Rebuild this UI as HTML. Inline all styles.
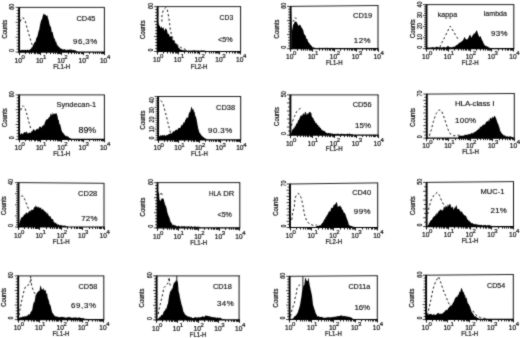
<!DOCTYPE html>
<html><head><meta charset="utf-8"><title>Flow cytometry histograms</title>
<style>
html,body{margin:0;padding:0;background:#fff;}
body{width:520px;height:338px;overflow:hidden;font-family:"Liberation Sans",sans-serif;}
svg{display:block;}
text{font-family:"Liberation Sans",sans-serif;fill:#0a0a0a;stroke:#0a0a0a;stroke-width:0.2px;}
.tk{font-size:6.6px;}
.sup{font-size:6.0px;}
.xl{font-size:6.8px;}
.yt{font-size:6.8px;}
.ct{font-size:6.8px;}
.lb{font-size:7.9px;stroke-width:0.15px;}
</style></head><body>
<svg width="520" height="338" viewBox="0 0 520 338">
<defs><filter id="soft" x="0" y="0" width="520" height="338" filterUnits="userSpaceOnUse" color-interpolation-filters="sRGB"><feConvolveMatrix order="3" kernelMatrix="0.03 0.09 0.03 0.09 0.52 0.09 0.03 0.09 0.03" divisor="1" edgeMode="duplicate" preserveAlpha="true"/></filter></defs>
<g filter="url(#soft)">
<rect width="520" height="338" fill="#fff"/>
<g><path d="M19.5 52.1 L19.5 50.12 L20.05 49.93 L20.6 50.44 L21.15 49.83 L21.7 50.3 L22.25 50.11 L22.8 49.78 L23.35 50.24 L23.9 49.74 L24.45 50.14 L25 49.75 L25.56 49.72 L26.12 50.02 L26.69 50.4 L27.25 49.6 L27.81 49.65 L28.38 50.04 L28.94 50.34 L29.5 49.88 L30.17 49.08 L30.83 49.2 L31.5 47.4 L32.17 47.52 L32.83 45.66 L33.5 44.39 L34.17 42.94 L34.83 41.94 L35.5 41.71 L36.25 38.2 L37 37.23 L37.75 34.93 L38.5 31.57 L39.25 29.41 L40 25.01 L40.65 22.25 L41.3 20 L42 19.36 L42.7 16.25 L43.35 14.17 L44 13.39 L45 15.34 L45.63 14.59 L46.27 16.03 L46.9 15.48 L47.45 15.53 L48 18.25 L48.75 20.59 L49.5 24.28 L50.25 26.28 L51 27.28 L51.75 32.13 L52.5 31.75 L53.25 35.01 L54 38.19 L54.75 38.65 L55.5 41.48 L56.17 41.73 L56.83 44.15 L57.5 45.46 L58.12 45.87 L58.75 47.07 L59.38 46.98 L60 48.26 L60.6 48.38 L61.2 48.62 L61.8 48.73 L62.4 49.45 L63 49.82 L63.56 49.33 L64.11 49.6 L64.67 48.96 L65.22 49.75 L65.78 49.74 L66.33 50.19 L66.89 50.05 L67.44 49.51 L68 49.67 L68.58 50.03 L69.17 49.36 L69.75 49.88 L70.33 49.61 L70.92 49.6 L71.5 49.58 L72.08 50.38 L72.67 49.74 L73.25 49.91 L73.83 50.1 L74.42 50.64 L75 49.87 L75.56 50.6 L76.11 51.03 L76.67 51.67 L77.22 51.65 L77.78 51.97 L78.33 52.1 L78.89 52.1 L79.44 52.1 L80 52.1 L80.56 52.1 L81.11 52.1 L81.67 52.1 L82.22 52.1 L82.78 52.1 L83.33 52.1 L83.89 52.1 L84.44 52.1 L85 52.1 L85.56 52.1 L86.12 52.1 L86.68 52.1 L87.24 52.1 L87.79 52.1 L88.35 52.1 L88.91 52.1 L89.47 52.1 L90.03 52.1 L90.59 52.1 L91.15 52.1 L91.71 52.1 L92.26 52.1 L92.82 52.1 L93.38 52.1 L93.94 52.1 L94.5 52.1 L95.06 52.1 L95.62 52.1 L96.18 52.1 L96.74 52.1 L97.29 52.1 L97.85 52.1 L98.41 52.1 L98.97 52.1 L99.53 52.1 L100.09 52.1 L100.65 52.1 L101.21 52.1 L101.76 52.1 L102.32 52.1 L102.88 52.1 L103.44 52.1 L104 52.1 L104 52.1 Z" fill="#000"/><path d="M19.5 52.1 v-0.96 M20.99 52.1 v-0.52 M22.12 52.1 v-0.59 M23.63 52.1 v-1.07 M24.55 52.1 v-0.44 M25.54 52.1 v-0.49 M26.73 52.1 v-0.77 M27.74 52.1 v-0.3 M28.87 52.1 v-0.6 M30.12 52.1 v-1.06 M31.48 52.1 v-0.71 M32.77 52.1 v-0.84 M33.61 52.1 v-1.02 M35.04 52.1 v-1 M36.48 52.1 v-0.61 M37.59 52.1 v-0.38 M38.9 52.1 v-0.35 M39.76 52.1 v-0.47 M40.69 52.1 v-0.57 M41.53 52.1 v-0.3 M42.45 52.1 v-0.38 M43.54 52.1 v-0.32 M45.04 52.1 v-0.79 M45.96 52.1 v-0.5 M47.04 52.1 v-0.59 M47.93 52.1 v-0.98 M49.53 52.1 v-0.67 M50.72 52.1 v-0.37 M51.6 52.1 v-0.57 M52.61 52.1 v-0.96 M53.54 52.1 v-0.32 M55.1 52.1 v-0.72 M56.02 52.1 v-0.73 M56.84 52.1 v-0.72 M58.42 52.1 v-0.99 M59.78 52.1 v-0.51 M60.87 52.1 v-0.43 M62.29 52.1 v-0.73 M63.71 52.1 v-0.56 M64.69 52.1 v-0.95 M66.28 52.1 v-0.98 M67.72 52.1 v-0.95 M69.12 52.1 v-0.48 M70.33 52.1 v-0.58 M71.15 52.1 v-0.32 M72.18 52.1 v-0.51 M73.53 52.1 v-1.07 M74.69 52.1 v-1.05 M76.28 52.1 v-1.06 M77.37 52.1 v-0.48" stroke="#000" stroke-width="0.7" fill="none"/><polyline points="20.3,21.5 21.3,18.8 22.6,17.8 24,18.5 25,20.6 26.3,25 27.5,29.5 28.8,34 30,38 31.2,42 32.2,45" fill="none" stroke="#111" stroke-width="1.0" stroke-dasharray="2.2 2.3"/><line x1="19.1" y1="7.4" x2="104.8" y2="7.4" stroke="#222" stroke-width="1.0"/><line x1="104.4" y1="7.4" x2="104.4" y2="52.1" stroke="#111" stroke-width="1.0"/><line x1="19.1" y1="7.1" x2="19.1" y2="52.9" stroke="#000" stroke-width="1.9"/><line x1="18.3" y1="52.1" x2="104.8" y2="52.1" stroke="#000" stroke-width="1.2"/><path d="M19.5 52.1 v3.0 M25.5 52.1 v2.0 M29.5 52.1 v2.0 M31.5 52.1 v2.0 M34.5 52.1 v2.0 M35.5 52.1 v2.0 M37.5 52.1 v2.0 M38.5 52.1 v2.0 M39.5 52.1 v2.0 M40.5 52.1 v3.0 M46.5 52.1 v2.0 M50.5 52.1 v2.0 M53.5 52.1 v2.0 M55.5 52.1 v2.0 M57.5 52.1 v2.0 M58.5 52.1 v2.0 M59.5 52.1 v2.0 M60.5 52.1 v2.0 M61.5 52.1 v3.0 M68.5 52.1 v2.0 M71.5 52.1 v2.0 M74.5 52.1 v2.0 M76.5 52.1 v2.0 M78.5 52.1 v2.0 M79.5 52.1 v2.0 M81.5 52.1 v2.0 M82.5 52.1 v2.0 M83.5 52.1 v3.0 M89.5 52.1 v2.0 M93.5 52.1 v2.0 M95.5 52.1 v2.0 M97.5 52.1 v2.0 M99.5 52.1 v2.0 M101.5 52.1 v2.0 M102.5 52.1 v2.0 M103.5 52.1 v2.0 M104.5 52.1 v3.0" stroke="#000" stroke-width="0.9" fill="none"/><path d="M19.1 52.1 h-3.5 M19.1 49.12 h-2.5 M19.1 46.14 h-2.5 M19.1 43.16 h-2.5 M19.1 40.18 h-2.5 M19.1 37.2 h-3.5 M19.1 34.22 h-2.5 M19.1 31.24 h-2.5 M19.1 28.26 h-2.5 M19.1 25.28 h-2.5 M19.1 22.3 h-3.5 M19.1 19.32 h-2.5 M19.1 16.34 h-2.5 M19.1 13.36 h-2.5 M19.1 10.38 h-2.5 M19.1 7.4 h-3.5" stroke="#000" stroke-width="0.75" fill="none"/><text x="14.6" y="62.6" class="tk">10</text><text x="21.6" y="58.7" class="sup">0</text><text x="35.93" y="62.6" class="tk">10</text><text x="42.93" y="58.7" class="sup">1</text><text x="57.25" y="62.6" class="tk">10</text><text x="64.25" y="58.7" class="sup">2</text><text x="78.58" y="62.6" class="tk">10</text><text x="85.58" y="58.7" class="sup">3</text><text x="99.9" y="62.6" class="tk">10</text><text x="106.9" y="58.7" class="sup">4</text><text transform="translate(61.75 68.7) scale(0.889 1)" class="xl" text-anchor="middle">FL1-H</text><text transform="translate(13.8 6.8) rotate(-90) scale(0.807 1)" class="yt" text-anchor="middle">60</text><text transform="translate(13.8 50.6) rotate(-90) scale(0.793 1)" class="yt" text-anchor="middle">0</text><text transform="translate(6.6 29.2) rotate(-90) scale(0.873 1)" class="ct" text-anchor="middle">Counts</text><text x="76.5" y="21.3" class="lb" textLength="18.9" lengthAdjust="spacingAndGlyphs">CD45</text><text x="73.1" y="44.1" class="lb" textLength="24.1">96,3%</text></g>
<g><path d="M157.5 51.5 L157.5 5.57 L158.2 11.99 L157.9 21.12 L158.5 23.86 L159.1 25.46 L159.7 25.43 L160.3 27.22 L160.9 28.09 L161.5 26.02 L162.1 28.35 L162.7 28.34 L163.3 27.06 L164.4 31.05 L165 29.53 L165.6 27.91 L166.2 29.38 L166.8 29.33 L167.4 32.42 L168 34.14 L168.6 33.48 L169.2 34.71 L169.8 36.85 L170.4 36.76 L171 35.8 L171.57 36.52 L172.13 37.42 L172.7 40.08 L173.3 40.61 L173.9 39.92 L174.5 42.19 L175.1 43.23 L175.7 43.33 L176.3 43.53 L176.9 44.88 L177.5 45.23 L178.1 46.11 L178.68 48.03 L179.25 48.19 L179.82 48.63 L180.4 49.68 L181 49.37 L181.6 50.07 L182.2 50.25 L182.8 49.88 L183.4 50.17 L183.99 50.25 L184.57 50.24 L185.16 50.61 L185.74 50.35 L186.33 50.54 L186.91 50.32 L187.5 51.07 L188.07 50.57 L188.64 50.67 L189.2 50.79 L189.77 51.08 L190.34 50.65 L190.91 51.1 L191.48 50.73 L192.05 50.76 L192.61 50.76 L193.18 50.31 L193.75 50.7 L194.32 50.47 L194.89 50.31 L195.45 51.03 L196.02 50.47 L196.59 50.75 L197.16 50.98 L197.73 50.83 L198.3 50.63 L198.86 50.81 L199.43 50.84 L200 51.05 L200.56 50.45 L201.11 50.86 L201.67 50.58 L202.22 50.61 L202.78 51.05 L203.33 50.82 L203.89 50.86 L204.44 50.91 L205 51.04 L205.56 51.17 L206.11 51.3 L206.67 51.42 L207.22 51.5 L207.78 51.5 L208.33 51.5 L208.89 51.5 L209.44 51.5 L210 51.5 L210.56 51.5 L211.11 51.5 L211.67 51.5 L212.22 51.5 L212.78 51.5 L213.33 51.5 L213.89 51.5 L214.44 51.5 L215 51.5 L215.56 51.5 L216.11 51.5 L216.67 51.5 L217.22 51.5 L217.78 51.5 L218.33 51.5 L218.89 51.5 L219.44 51.5 L220 51.5 L220.56 51.5 L221.11 51.5 L221.67 51.5 L222.22 51.5 L222.78 51.5 L223.33 51.5 L223.89 51.5 L224.44 51.5 L225 51.5 L225.56 51.5 L226.11 51.5 L226.67 51.5 L227.22 51.5 L227.78 51.5 L228.33 51.5 L228.89 51.5 L229.44 51.5 L230 51.5 L230.56 51.5 L231.11 51.5 L231.67 51.5 L232.22 51.5 L232.78 51.5 L233.33 51.5 L233.89 51.5 L234.44 51.5 L235 51.5 L235.56 51.5 L236.11 51.5 L236.67 51.5 L237.22 51.5 L237.78 51.5 L238.33 51.5 L238.89 51.5 L239.44 51.5 L240 51.5 L240 51.5 Z" fill="#000"/><path d="M157.5 51.5 v-0.91 M159.03 51.5 v-0.65 M160.32 51.5 v-0.7 M161.53 51.5 v-0.85 M162.69 51.5 v-0.73 M163.87 51.5 v-1.05 M165.23 51.5 v-1 M166.79 51.5 v-0.51 M168.03 51.5 v-1.05 M169.51 51.5 v-0.41 M170.4 51.5 v-0.65 M171.26 51.5 v-0.49 M172.12 51.5 v-0.84 M173.55 51.5 v-1.02 M174.47 51.5 v-0.87 M175.8 51.5 v-0.41 M177.31 51.5 v-1.07 M178.28 51.5 v-1.06 M179.4 51.5 v-0.69 M180.99 51.5 v-0.97 M181.92 51.5 v-0.65 M183.13 51.5 v-0.57 M184.09 51.5 v-0.55 M185.47 51.5 v-0.32 M186.71 51.5 v-0.65 M187.53 51.5 v-0.57 M188.82 51.5 v-0.71 M189.68 51.5 v-1.09 M191.11 51.5 v-1.08 M191.99 51.5 v-0.51 M192.82 51.5 v-0.92 M193.84 51.5 v-0.4 M194.98 51.5 v-1.03 M196.43 51.5 v-0.51 M197.35 51.5 v-1.04 M198.61 51.5 v-0.86 M199.48 51.5 v-0.35 M200.83 51.5 v-0.64 M201.69 51.5 v-1.05 M203 51.5 v-0.94 M203.86 51.5 v-0.98 M204.72 51.5 v-0.99 M205.88 51.5 v-0.57" stroke="#000" stroke-width="0.7" fill="none"/><polyline points="161.9,21.6 161.9,15.8 163.3,10 165.8,7.5 167.4,10 168.6,16.6 169.6,23.2 170.2,29 171.2,33.2 172.4,37.3 174.9,42.3 178.2,45.6 182.3,48.4 185.7,49.4" fill="none" stroke="#111" stroke-width="1.0" stroke-dasharray="2.2 2.3"/><line x1="157.6" y1="6.6" x2="241" y2="6.6" stroke="#222" stroke-width="1.0"/><line x1="240.6" y1="6.6" x2="240.6" y2="51.5" stroke="#111" stroke-width="1.0"/><line x1="157.6" y1="6.3" x2="157.6" y2="52.3" stroke="#000" stroke-width="1.9"/><line x1="156.8" y1="51.5" x2="241" y2="51.5" stroke="#000" stroke-width="1.2"/><path d="M157.5 51.5 v3.0 M163.5 51.5 v2.0 M167.5 51.5 v2.0 M170.5 51.5 v2.0 M172.5 51.5 v2.0 M173.5 51.5 v2.0 M175.5 51.5 v2.0 M176.5 51.5 v2.0 M177.5 51.5 v2.0 M178.5 51.5 v3.0 M184.5 51.5 v2.0 M188.5 51.5 v2.0 M190.5 51.5 v2.0 M192.5 51.5 v2.0 M194.5 51.5 v2.0 M195.5 51.5 v2.0 M197.5 51.5 v2.0 M198.5 51.5 v2.0 M199.5 51.5 v3.0 M205.5 51.5 v2.0 M209.5 51.5 v2.0 M211.5 51.5 v2.0 M213.5 51.5 v2.0 M215.5 51.5 v2.0 M216.5 51.5 v2.0 M217.5 51.5 v2.0 M218.5 51.5 v2.0 M219.5 51.5 v3.0 M226.5 51.5 v2.0 M229.5 51.5 v2.0 M232.5 51.5 v2.0 M234.5 51.5 v2.0 M235.5 51.5 v2.0 M237.5 51.5 v2.0 M238.5 51.5 v2.0 M239.5 51.5 v2.0 M240.5 51.5 v3.0" stroke="#000" stroke-width="0.9" fill="none"/><path d="M157.6 51.5 h-3.5 M157.6 48.51 h-2.5 M157.6 45.51 h-2.5 M157.6 42.52 h-2.5 M157.6 39.53 h-2.5 M157.6 36.53 h-3.5 M157.6 33.54 h-2.5 M157.6 30.55 h-2.5 M157.6 27.55 h-2.5 M157.6 24.56 h-2.5 M157.6 21.57 h-3.5 M157.6 18.57 h-2.5 M157.6 15.58 h-2.5 M157.6 12.59 h-2.5 M157.6 9.59 h-2.5 M157.6 6.6 h-3.5" stroke="#000" stroke-width="0.75" fill="none"/><text x="153.1" y="62.1" class="tk">10</text><text x="160.1" y="58.2" class="sup">0</text><text x="173.85" y="62.1" class="tk">10</text><text x="180.85" y="58.2" class="sup">1</text><text x="194.6" y="62.1" class="tk">10</text><text x="201.6" y="58.2" class="sup">2</text><text x="215.35" y="62.1" class="tk">10</text><text x="222.35" y="58.2" class="sup">3</text><text x="236.1" y="62.1" class="tk">10</text><text x="243.1" y="58.2" class="sup">4</text><text transform="translate(199.1 68.7) scale(0.889 1)" class="xl" text-anchor="middle">FL2-H</text><text transform="translate(153.1 6) rotate(-90) scale(0.807 1)" class="yt" text-anchor="middle">60</text><text transform="translate(153.1 50) rotate(-90) scale(0.793 1)" class="yt" text-anchor="middle">0</text><text transform="translate(145.3 29.7) rotate(-90) scale(0.873 1)" class="ct" text-anchor="middle">Counts</text><text x="219.6" y="19.7" class="lb" textLength="13.6" lengthAdjust="spacingAndGlyphs">CD3</text><text x="218.1" y="41.9" class="lb" textLength="14.6" lengthAdjust="spacingAndGlyphs">&lt;5%</text></g>
<g><path d="M291.3 48.7 L291.3 9.75 L292.2 30.8 L293.2 24.04 L293.77 24.42 L294.33 22.48 L294.9 21.07 L295.7 21.65 L296.5 21.67 L297.07 23.02 L297.63 24.23 L298.2 25.04 L298.77 26.32 L299.33 24.45 L299.9 24.9 L300.7 25.45 L301.5 27.68 L302.07 27.7 L302.63 29.61 L303.2 30.03 L304 33.81 L304.8 34.93 L305.37 35.13 L305.93 36.94 L306.5 39.05 L307.3 39.03 L308.1 42.05 L308.73 42.21 L309.35 43.14 L309.98 44.45 L310.6 44.66 L311.23 45.43 L311.85 46.26 L312.48 47.19 L313.1 47.15 L313.76 47.8 L314.42 47.85 L315.08 47.96 L315.74 47.94 L316.4 48.2 L316.95 48.2 L317.5 48.2 L318.05 48.21 L318.6 48.21 L319.15 48.21 L319.7 48.21 L320.25 48.21 L320.8 48.21 L321.35 48.22 L321.9 48.22 L322.45 48.22 L323 48.22 L323.55 48.22 L324.1 48.23 L324.65 48.23 L325.2 48.23 L325.75 48.23 L326.3 48.23 L326.85 48.23 L327.4 48.24 L327.95 48.24 L328.5 48.24 L329.05 48.24 L329.6 48.24 L330.15 48.24 L330.7 48.25 L331.25 48.25 L331.8 48.25 L332.35 48.3 L332.9 48.39 L333.45 48.47 L334 48.55 L334.55 48.63 L335.1 48.7 L335.65 48.7 L336.2 48.7 L336.75 48.7 L337.3 48.7 L337.85 48.7 L338.4 48.7 L338.95 48.7 L339.5 48.7 L340.05 48.7 L340.6 48.7 L341.15 48.7 L341.7 48.7 L342.25 48.7 L342.8 48.7 L343.35 48.7 L343.9 48.7 L344.45 48.7 L345 48.7 L345.55 48.7 L346.1 48.7 L346.65 48.7 L347.2 48.7 L347.75 48.7 L348.3 48.7 L348.85 48.7 L349.4 48.7 L349.95 48.7 L350.5 48.7 L351.05 48.7 L351.6 48.7 L352.15 48.7 L352.7 48.7 L353.25 48.7 L353.8 48.7 L354.35 48.7 L354.9 48.7 L355.45 48.7 L356 48.7 L356.55 48.7 L357.1 48.7 L357.65 48.7 L358.2 48.7 L358.75 48.7 L359.3 48.7 L359.85 48.7 L360.4 48.7 L360.95 48.7 L361.5 48.7 L362.05 48.7 L362.6 48.7 L363.15 48.7 L363.7 48.7 L364.25 48.7 L364.8 48.7 L365.35 48.7 L365.9 48.7 L366.45 48.7 L367 48.7 L367.55 48.7 L368.1 48.7 L368.65 48.7 L369.2 48.7 L369.75 48.7 L370.3 48.7 L370.85 48.7 L371.4 48.7 L371.95 48.7 L372.5 48.7 L373.05 48.7 L373.6 48.7 L374.15 48.7 L374.7 48.7 L375.25 48.7 L375.8 48.7 L376.35 48.7 L376.9 48.7 L377.45 48.7 L378 48.7 L378 48.7 Z" fill="#000"/><path d="M291.3 48.7 v-0.58 M292.14 48.7 v-0.4 M293 48.7 v-0.89 M294 48.7 v-0.43 M294.87 48.7 v-0.97 M296.37 48.7 v-0.84 M297.39 48.7 v-0.49 M298.43 48.7 v-0.67 M299.35 48.7 v-0.66 M300.37 48.7 v-1.07 M301.94 48.7 v-0.74 M302.94 48.7 v-1.07 M303.99 48.7 v-0.59 M304.79 48.7 v-0.61 M305.97 48.7 v-0.7 M306.93 48.7 v-0.7 M307.73 48.7 v-0.51 M308.6 48.7 v-0.62 M309.44 48.7 v-0.32 M310.48 48.7 v-0.49 M311.75 48.7 v-0.72 M313.15 48.7 v-0.83 M314.52 48.7 v-1 M315.63 48.7 v-0.56 M317.22 48.7 v-0.42 M318.6 48.7 v-0.81 M319.44 48.7 v-0.97 M320.95 48.7 v-0.8 M322.34 48.7 v-0.95 M323.25 48.7 v-0.72 M324.45 48.7 v-0.97 M325.9 48.7 v-0.96 M327.16 48.7 v-1.01 M328.51 48.7 v-0.85 M329.49 48.7 v-0.32 M330.4 48.7 v-0.59 M331.28 48.7 v-0.97 M332.53 48.7 v-0.8 M333.83 48.7 v-0.84" stroke="#000" stroke-width="0.7" fill="none"/><line x1="292.9" y1="21.6" x2="294" y2="19.9" stroke="#111" stroke-width="1.0"/><line x1="294.9" y1="17.4" x2="296.5" y2="19" stroke="#111" stroke-width="1.0"/><line x1="290.6" y1="6.4" x2="378.4" y2="5.5" stroke="#222" stroke-width="1.0"/><line x1="378" y1="5.5" x2="378" y2="48.7" stroke="#111" stroke-width="1.0"/><line x1="290.6" y1="6.1" x2="290.6" y2="49.5" stroke="#000" stroke-width="1.9"/><line x1="289.8" y1="48.7" x2="378.4" y2="48.7" stroke="#000" stroke-width="1.2"/><path d="M290.5 48.7 v3.0 M297.5 48.7 v2.0 M301.5 48.7 v2.0 M303.5 48.7 v2.0 M305.5 48.7 v2.0 M307.5 48.7 v2.0 M309.5 48.7 v2.0 M310.5 48.7 v2.0 M311.5 48.7 v2.0 M312.5 48.7 v3.0 M319.5 48.7 v2.0 M322.5 48.7 v2.0 M325.5 48.7 v2.0 M327.5 48.7 v2.0 M329.5 48.7 v2.0 M330.5 48.7 v2.0 M332.5 48.7 v2.0 M333.5 48.7 v2.0 M334.5 48.7 v3.0 M340.5 48.7 v2.0 M344.5 48.7 v2.0 M347.5 48.7 v2.0 M349.5 48.7 v2.0 M351.5 48.7 v2.0 M352.5 48.7 v2.0 M354.5 48.7 v2.0 M355.5 48.7 v2.0 M356.5 48.7 v3.0 M362.5 48.7 v2.0 M366.5 48.7 v2.0 M369.5 48.7 v2.0 M371.5 48.7 v2.0 M373.5 48.7 v2.0 M374.5 48.7 v2.0 M375.5 48.7 v2.0 M377.5 48.7 v2.0 M378.5 48.7 v3.0" stroke="#000" stroke-width="0.9" fill="none"/><path d="M290.6 48.7 h-3.5 M290.6 45.88 h-2.5 M290.6 43.06 h-2.5 M290.6 40.24 h-2.5 M290.6 37.42 h-2.5 M290.6 34.6 h-3.5 M290.6 31.78 h-2.5 M290.6 28.96 h-2.5 M290.6 26.14 h-2.5 M290.6 23.32 h-2.5 M290.6 20.5 h-3.5 M290.6 17.68 h-2.5 M290.6 14.86 h-2.5 M290.6 12.04 h-2.5 M290.6 9.22 h-2.5 M290.6 6.4 h-3.5" stroke="#000" stroke-width="0.75" fill="none"/><text x="286.1" y="58.7" class="tk">10</text><text x="293.1" y="54.8" class="sup">0</text><text x="307.95" y="58.7" class="tk">10</text><text x="314.95" y="54.8" class="sup">1</text><text x="329.8" y="58.7" class="tk">10</text><text x="336.8" y="54.8" class="sup">2</text><text x="351.65" y="58.7" class="tk">10</text><text x="358.65" y="54.8" class="sup">3</text><text x="373.5" y="58.7" class="tk">10</text><text x="380.5" y="54.8" class="sup">4</text><text transform="translate(334.3 65.1) scale(0.889 1)" class="xl" text-anchor="middle">FL1-H</text><text transform="translate(286.1 5.8) rotate(-90) scale(0.807 1)" class="yt" text-anchor="middle">60</text><text transform="translate(286.1 47.2) rotate(-90) scale(0.793 1)" class="yt" text-anchor="middle">0</text><text transform="translate(279 29) rotate(-90) scale(0.873 1)" class="ct" text-anchor="middle">Counts</text><text x="353" y="17.8" class="lb" textLength="19.2" lengthAdjust="spacingAndGlyphs">CD19</text><text x="353.8" y="42.5" class="lb" textLength="16.8">12%</text></g>
<g><path d="M427 48.6 L427 47.2 L427.58 47.82 L428.17 47.77 L428.75 47.55 L429.33 47.56 L429.92 47.64 L430.5 47.15 L431.08 47.67 L431.67 47.27 L432.25 47.11 L432.83 47.25 L433.42 47.6 L434 47.16 L434.6 47.47 L435.2 47.54 L435.8 47.04 L436.4 46.83 L437 46.78 L437.6 47.09 L438.2 47.29 L438.8 47.31 L439.4 47.47 L440 47.16 L440.6 47.2 L441.2 47.26 L441.8 47.63 L442.4 47.26 L443 47.45 L443.6 46.99 L444.2 47.01 L444.8 47.16 L445.4 47.46 L446 47.45 L446.67 47.01 L447.33 46.27 L448 46.01 L448.75 46.62 L449.5 47.27 L450.11 46.94 L450.73 47.5 L451.34 46.89 L451.96 47.45 L452.57 47.36 L453.19 46.57 L453.8 46.87 L454.42 46.8 L455.04 46.55 L455.66 45.78 L456.28 45.27 L456.9 44.87 L457.47 44.96 L458.05 43.87 L458.62 43.67 L459.2 42.81 L459.77 42.72 L460.35 42.66 L460.93 41.61 L461.5 41.76 L462.3 40.76 L463.1 40.31 L463.85 38.61 L464.6 36.69 L465.4 38.82 L465.95 39.24 L466.5 39.62 L467.1 39.2 L467.7 39.19 L468.3 38.01 L468.9 36.74 L469.45 35.46 L470 34.48 L470.8 36.05 L471.5 37.97 L472.05 36.15 L472.6 35.6 L473.2 34.87 L473.8 33.5 L474.45 33.64 L475.1 32.97 L476.2 31.12 L476.9 30.13 L477.7 33 L478.5 35.31 L479.1 36.55 L479.7 36.97 L480.25 36.44 L480.8 36.14 L481.5 39.02 L482.3 40.39 L483.1 41.98 L483.85 43.97 L484.6 44.93 L485.18 45.82 L485.75 45.65 L486.32 46.04 L486.9 46.61 L487.46 46.47 L488.01 46.73 L488.57 47.31 L489.13 47.43 L489.69 47.75 L490.24 47.93 L490.8 48.12 L491.36 48.34 L491.91 48.56 L492.47 48.6 L493.02 48.6 L493.57 48.6 L494.13 48.6 L494.69 48.6 L495.24 48.6 L495.8 48.6 L496.35 48.6 L496.91 48.6 L497.46 48.6 L498.01 48.6 L498.57 48.6 L499.12 48.6 L499.68 48.6 L500.24 48.6 L500.79 48.6 L501.35 48.6 L501.9 48.6 L502.45 48.6 L503.01 48.6 L503.56 48.6 L504.12 48.6 L504.68 48.6 L505.23 48.6 L505.79 48.6 L506.34 48.6 L506.89 48.6 L507.45 48.6 L508 48.6 L508.56 48.6 L509.12 48.6 L509.67 48.6 L510.23 48.6 L510.78 48.6 L511.33 48.6 L511.89 48.6 L512.45 48.6 L513 48.6 L513 48.6 Z" fill="#000"/><path d="M427 48.6 v-1.03 M428.55 48.6 v-0.74 M429.93 48.6 v-0.34 M431.31 48.6 v-0.66 M432.72 48.6 v-0.82 M433.75 48.6 v-0.34 M435.29 48.6 v-0.4 M436.46 48.6 v-0.57 M437.5 48.6 v-0.89 M439.08 48.6 v-0.51 M440.41 48.6 v-0.54 M441.65 48.6 v-0.62 M442.59 48.6 v-0.43 M443.55 48.6 v-1.02 M444.75 48.6 v-0.48 M446.28 48.6 v-1.1 M447.44 48.6 v-0.41 M448.39 48.6 v-0.37 M449.46 48.6 v-0.37 M450.46 48.6 v-0.51 M451.71 48.6 v-1.01 M453.11 48.6 v-0.63 M454.24 48.6 v-0.72 M455.34 48.6 v-0.57 M456.19 48.6 v-0.52 M457.77 48.6 v-0.4 M458.97 48.6 v-0.8 M460.46 48.6 v-0.47 M461.48 48.6 v-0.5 M462.6 48.6 v-0.66 M464.16 48.6 v-0.98 M465.66 48.6 v-0.32 M466.48 48.6 v-0.87 M468 48.6 v-0.68 M469.27 48.6 v-0.3 M470.38 48.6 v-1.04 M471.84 48.6 v-0.98 M473.42 48.6 v-0.5 M474.31 48.6 v-0.42 M475.53 48.6 v-0.85 M477.08 48.6 v-0.88 M478.4 48.6 v-0.91 M479.56 48.6 v-0.74 M480.4 48.6 v-0.93 M481.38 48.6 v-1.04 M482.7 48.6 v-0.54 M483.6 48.6 v-0.5 M484.91 48.6 v-0.86 M485.8 48.6 v-0.36 M487.02 48.6 v-0.77 M488.13 48.6 v-0.48 M489.41 48.6 v-0.31 M490.45 48.6 v-0.67" stroke="#000" stroke-width="0.7" fill="none"/><polyline points="439.8,47.3 442,42.5 444.5,37.5 447,32.5 449,28.5 450.3,26.2 452,29 454,32.5 456.5,36.5 458.9,40.6" fill="none" stroke="#111" stroke-width="1.0" stroke-dasharray="2.2 2.3"/><line x1="426.5" y1="4.6" x2="514.2" y2="4.6" stroke="#222" stroke-width="1.0"/><line x1="513.8" y1="4.6" x2="513.8" y2="48.6" stroke="#111" stroke-width="1.0"/><line x1="426.5" y1="4.3" x2="426.5" y2="49.4" stroke="#000" stroke-width="1.9"/><line x1="425.7" y1="48.6" x2="514.2" y2="48.6" stroke="#000" stroke-width="1.2"/><path d="M426.5 48.6 v3.0 M433.5 48.6 v2.0 M436.5 48.6 v2.0 M439.5 48.6 v2.0 M441.5 48.6 v2.0 M443.5 48.6 v2.0 M444.5 48.6 v2.0 M446.5 48.6 v2.0 M447.5 48.6 v2.0 M448.5 48.6 v3.0 M454.5 48.6 v2.0 M458.5 48.6 v2.0 M461.5 48.6 v2.0 M463.5 48.6 v2.0 M465.5 48.6 v2.0 M466.5 48.6 v2.0 M468.5 48.6 v2.0 M469.5 48.6 v2.0 M470.5 48.6 v3.0 M476.5 48.6 v2.0 M480.5 48.6 v2.0 M483.5 48.6 v2.0 M485.5 48.6 v2.0 M487.5 48.6 v2.0 M488.5 48.6 v2.0 M489.5 48.6 v2.0 M490.5 48.6 v2.0 M491.5 48.6 v3.0 M498.5 48.6 v2.0 M502.5 48.6 v2.0 M505.5 48.6 v2.0 M507.5 48.6 v2.0 M508.5 48.6 v2.0 M510.5 48.6 v2.0 M511.5 48.6 v2.0 M512.5 48.6 v2.0 M513.5 48.6 v3.0" stroke="#000" stroke-width="0.9" fill="none"/><path d="M426.5 48.6 h-3.5 M426.5 46.4 h-2.5 M426.5 44.2 h-2.5 M426.5 42 h-2.5 M426.5 39.8 h-2.5 M426.5 37.6 h-3.5 M426.5 35.4 h-2.5 M426.5 33.2 h-2.5 M426.5 31 h-2.5 M426.5 28.8 h-2.5 M426.5 26.6 h-3.5 M426.5 24.4 h-2.5 M426.5 22.2 h-2.5 M426.5 20 h-2.5 M426.5 17.8 h-2.5 M426.5 15.6 h-3.5 M426.5 13.4 h-2.5 M426.5 11.2 h-2.5 M426.5 9 h-2.5 M426.5 6.8 h-2.5 M426.5 4.6 h-3.5" stroke="#000" stroke-width="0.75" fill="none"/><text x="422" y="58.9" class="tk">10</text><text x="429" y="55" class="sup">0</text><text x="443.82" y="58.9" class="tk">10</text><text x="450.82" y="55" class="sup">1</text><text x="465.65" y="58.9" class="tk">10</text><text x="472.65" y="55" class="sup">2</text><text x="487.47" y="58.9" class="tk">10</text><text x="494.47" y="55" class="sup">3</text><text x="509.3" y="58.9" class="tk">10</text><text x="516.3" y="55" class="sup">4</text><text transform="translate(470.15 64.9) scale(0.889 1)" class="xl" text-anchor="middle">FL2-H</text><text transform="translate(422.1 4.4) rotate(-90) scale(0.807 1)" class="yt" text-anchor="middle">40</text><text transform="translate(422.1 15) rotate(-90) scale(0.807 1)" class="yt" text-anchor="middle">30</text><text transform="translate(422.1 26) rotate(-90) scale(0.807 1)" class="yt" text-anchor="middle">20</text><text transform="translate(422.1 36.9) rotate(-90) scale(0.807 1)" class="yt" text-anchor="middle">10</text><text transform="translate(422.1 47.3) rotate(-90) scale(0.793 1)" class="yt" text-anchor="middle">0</text><text transform="translate(414.6 28.6) rotate(-90) scale(0.873 1)" class="ct" text-anchor="middle">Counts</text><text x="437.8" y="16.6" class="lb" textLength="19.4" lengthAdjust="spacingAndGlyphs">kappa</text><text x="483.8" y="16.2" class="lb" textLength="23.1" lengthAdjust="spacingAndGlyphs">lambda</text><text x="491" y="36.2" class="lb" textLength="16.5">93%</text></g>
<g><path d="M19.6 139.3 L19.6 134.71 L20 134.76 L20.62 134 L21.24 133.48 L21.86 133.33 L22.48 134.27 L23.1 133.72 L23.72 132.77 L24.34 131.97 L24.96 132.44 L25.58 132.42 L26.2 131.66 L26.77 131.78 L27.35 132.88 L27.93 133.69 L28.5 132.97 L29.07 132.46 L29.65 132.74 L30.23 132.67 L30.8 132.91 L31.38 131.29 L31.95 131.61 L32.52 130.75 L33.1 129.51 L33.67 129.1 L34.25 130.85 L34.83 129.72 L35.4 130.93 L35.98 129.38 L36.55 128.97 L37.12 129.73 L37.7 128.36 L38.28 129.4 L38.85 127.99 L39.42 126.87 L40 126.54 L40.58 126.83 L41.15 127.25 L41.72 127.77 L42.3 125.63 L42.88 125.65 L43.45 124.6 L44.02 126.05 L44.6 123.21 L45.4 121.32 L46.2 119.71 L46.95 119.19 L47.7 119.35 L48.28 118.53 L48.85 117.24 L49.42 117.37 L50 116.37 L50.58 114.04 L51.15 113.28 L51.72 115.56 L52.3 114.64 L52.88 112.31 L53.45 114.56 L54.02 113.69 L54.6 113.77 L55.17 113.8 L55.75 113.43 L56.33 113.03 L56.9 114.15 L57.55 116.34 L58.2 120.35 L58.8 119.63 L59.4 124.23 L60 124.12 L60.75 126.86 L61.5 130.17 L62.3 132.04 L63.1 133.29 L63.68 133.3 L64.25 134.51 L64.83 134.95 L65.4 136.23 L66.02 135.56 L66.64 136.02 L67.26 136.89 L67.88 136.12 L68.5 136.8 L69.13 137.83 L69.77 138.32 L70.4 138.16 L71.03 139.01 L71.67 139.3 L72.3 139.3 L72.86 139.3 L73.41 139.3 L73.97 139.3 L74.52 139.3 L75.08 139.3 L75.64 139.3 L76.19 139.3 L76.75 139.3 L77.31 139.3 L77.86 139.3 L78.42 139.3 L78.97 139.3 L79.53 139.3 L80.09 139.3 L80.64 139.3 L81.2 139.3 L81.75 139.3 L82.31 139.3 L82.87 139.3 L83.42 139.3 L83.98 139.3 L84.54 139.3 L85.09 139.3 L85.65 139.3 L86.2 139.3 L86.76 139.3 L87.32 139.3 L87.87 139.3 L88.43 139.3 L88.98 139.3 L89.54 139.3 L90.1 139.3 L90.65 139.3 L91.21 139.3 L91.76 139.3 L92.32 139.3 L92.88 139.3 L93.43 139.3 L93.99 139.3 L94.55 139.3 L95.1 139.3 L95.66 139.3 L96.21 139.3 L96.77 139.3 L97.33 139.3 L97.88 139.3 L98.44 139.3 L98.99 139.3 L99.55 139.3 L100.11 139.3 L100.66 139.3 L101.22 139.3 L101.78 139.3 L102.33 139.3 L102.89 139.3 L103.44 139.3 L104 139.3 L104 139.3 Z" fill="#000"/><path d="M19.6 139.3 v-0.33 M20.45 139.3 v-1.04 M21.46 139.3 v-0.9 M22.97 139.3 v-0.57 M23.99 139.3 v-1.07 M25.29 139.3 v-0.51 M26.66 139.3 v-0.55 M27.68 139.3 v-0.3 M29.08 139.3 v-1.03 M30.39 139.3 v-1.05 M31.21 139.3 v-0.49 M32.39 139.3 v-1.07 M33.95 139.3 v-0.61 M34.95 139.3 v-0.64 M36.15 139.3 v-1.04 M37.1 139.3 v-0.94 M38.49 139.3 v-0.96 M39.91 139.3 v-0.79 M40.97 139.3 v-0.56 M42.06 139.3 v-0.93 M42.92 139.3 v-0.46 M44.32 139.3 v-0.5 M45.17 139.3 v-0.33 M46.42 139.3 v-0.56 M48 139.3 v-1.01 M49.59 139.3 v-0.51 M50.46 139.3 v-0.38 M51.66 139.3 v-0.87 M52.81 139.3 v-0.49 M53.95 139.3 v-0.8 M55.29 139.3 v-0.9 M56.76 139.3 v-0.83 M57.66 139.3 v-0.97 M58.7 139.3 v-0.75 M59.8 139.3 v-0.89 M60.75 139.3 v-0.5 M61.75 139.3 v-0.42 M63.26 139.3 v-0.76 M64.32 139.3 v-0.62 M65.91 139.3 v-0.71 M66.9 139.3 v-0.95 M68.22 139.3 v-1.09 M69.1 139.3 v-0.68 M70.56 139.3 v-0.97" stroke="#000" stroke-width="0.7" fill="none"/><polyline points="20.8,110.3 21.5,107.2 23.1,105.7 24.6,107.2 26.2,111.8 27.7,117.2 29.2,123.4 30.8,128.8" fill="none" stroke="#111" stroke-width="1.0" stroke-dasharray="2.2 2.3"/><line x1="19.1" y1="94.9" x2="104.8" y2="94.9" stroke="#222" stroke-width="1.0"/><line x1="104.4" y1="94.9" x2="104.4" y2="139.3" stroke="#111" stroke-width="1.0"/><line x1="19.1" y1="94.6" x2="19.1" y2="140.1" stroke="#000" stroke-width="1.9"/><line x1="18.3" y1="139.3" x2="104.8" y2="139.3" stroke="#000" stroke-width="1.2"/><path d="M19.5 139.3 v3.0 M25.5 139.3 v2.0 M29.5 139.3 v2.0 M31.5 139.3 v2.0 M34.5 139.3 v2.0 M35.5 139.3 v2.0 M37.5 139.3 v2.0 M38.5 139.3 v2.0 M39.5 139.3 v2.0 M40.5 139.3 v3.0 M46.5 139.3 v2.0 M50.5 139.3 v2.0 M53.5 139.3 v2.0 M55.5 139.3 v2.0 M57.5 139.3 v2.0 M58.5 139.3 v2.0 M59.5 139.3 v2.0 M60.5 139.3 v2.0 M61.5 139.3 v3.0 M68.5 139.3 v2.0 M71.5 139.3 v2.0 M74.5 139.3 v2.0 M76.5 139.3 v2.0 M78.5 139.3 v2.0 M79.5 139.3 v2.0 M81.5 139.3 v2.0 M82.5 139.3 v2.0 M83.5 139.3 v3.0 M89.5 139.3 v2.0 M93.5 139.3 v2.0 M95.5 139.3 v2.0 M97.5 139.3 v2.0 M99.5 139.3 v2.0 M101.5 139.3 v2.0 M102.5 139.3 v2.0 M103.5 139.3 v2.0 M104.5 139.3 v3.0" stroke="#000" stroke-width="0.9" fill="none"/><path d="M19.1 139.3 h-3.5 M19.1 136.34 h-2.5 M19.1 133.38 h-2.5 M19.1 130.42 h-2.5 M19.1 127.46 h-2.5 M19.1 124.5 h-3.5 M19.1 121.54 h-2.5 M19.1 118.58 h-2.5 M19.1 115.62 h-2.5 M19.1 112.66 h-2.5 M19.1 109.7 h-3.5 M19.1 106.74 h-2.5 M19.1 103.78 h-2.5 M19.1 100.82 h-2.5 M19.1 97.86 h-2.5 M19.1 94.9 h-3.5" stroke="#000" stroke-width="0.75" fill="none"/><text x="14.6" y="149.5" class="tk">10</text><text x="21.6" y="145.6" class="sup">0</text><text x="35.93" y="149.5" class="tk">10</text><text x="42.93" y="145.6" class="sup">1</text><text x="57.25" y="149.5" class="tk">10</text><text x="64.25" y="145.6" class="sup">2</text><text x="78.58" y="149.5" class="tk">10</text><text x="85.58" y="145.6" class="sup">3</text><text x="99.9" y="149.5" class="tk">10</text><text x="106.9" y="145.6" class="sup">4</text><text transform="translate(61.75 155.7) scale(0.889 1)" class="xl" text-anchor="middle">FL1-H</text><text transform="translate(13.8 94.3) rotate(-90) scale(0.807 1)" class="yt" text-anchor="middle">60</text><text transform="translate(13.8 137.8) rotate(-90) scale(0.793 1)" class="yt" text-anchor="middle">0</text><text transform="translate(6.5 117.6) rotate(-90) scale(0.873 1)" class="ct" text-anchor="middle">Counts</text><text x="56.5" y="107.4" class="lb" textLength="39.7" lengthAdjust="spacingAndGlyphs">Syndecan-1</text><text x="78.5" y="132.6" class="lb" textLength="17.7" style="font-size:8.9px">89%</text></g>
<g><path d="M158.8 139.9 L158.8 136.46 L159.6 136.24 L160.18 135.61 L160.75 135.28 L161.32 135.96 L161.9 135.02 L162.46 135.59 L163.01 134.86 L163.57 135.63 L164.13 135.11 L164.69 134.92 L165.24 135.72 L165.8 136.02 L166.43 134.64 L167.07 135.14 L167.7 134.98 L168.33 134.18 L168.97 134.2 L169.6 133.65 L170.22 133.41 L170.84 133.16 L171.46 133.41 L172.08 133.18 L172.7 132.08 L173.32 131.26 L173.94 131.36 L174.56 131.56 L175.18 130.13 L175.8 129.92 L176.4 129.38 L177 130.33 L177.6 129.5 L178.2 128.14 L178.8 127.91 L179.4 127.98 L180 127.77 L180.6 127.42 L181.2 125.46 L181.77 124.84 L182.35 125.49 L182.93 123.92 L183.5 122.76 L184.07 121.83 L184.65 122.9 L185.23 119.85 L185.8 119.73 L186.38 118.06 L186.95 117.32 L187.53 117.89 L188.1 117.39 L188.77 113.94 L189.43 112.07 L190.1 112.58 L190.85 108.89 L191.6 106.32 L192.4 109.77 L193.2 108.54 L193.85 111.49 L194.5 111.68 L195.3 116.05 L196.1 117.37 L196.7 120.11 L197.3 123.57 L198.05 127.72 L198.8 130.59 L199.6 132.99 L200.4 133.57 L200.97 135.05 L201.55 135.37 L202.12 136.23 L202.7 136.48 L203.32 136.93 L203.94 137.48 L204.56 138.24 L205.18 138.06 L205.8 138.98 L206.36 139.56 L206.92 139.59 L207.48 139.89 L208.03 139.9 L208.59 139.9 L209.15 139.9 L209.71 139.9 L210.27 139.9 L210.83 139.9 L211.39 139.9 L211.95 139.9 L212.5 139.9 L213.06 139.9 L213.62 139.9 L214.18 139.9 L214.74 139.9 L215.3 139.9 L215.86 139.9 L216.42 139.9 L216.97 139.9 L217.53 139.9 L218.09 139.9 L218.65 139.9 L219.21 139.9 L219.77 139.9 L220.33 139.9 L220.89 139.9 L221.44 139.9 L222 139.9 L222.56 139.9 L223.12 139.9 L223.68 139.9 L224.24 139.9 L224.8 139.9 L225.36 139.9 L225.91 139.9 L226.47 139.9 L227.03 139.9 L227.59 139.9 L228.15 139.9 L228.71 139.9 L229.27 139.9 L229.83 139.9 L230.38 139.9 L230.94 139.9 L231.5 139.9 L232.06 139.9 L232.62 139.9 L233.18 139.9 L233.74 139.9 L234.3 139.9 L234.85 139.9 L235.41 139.9 L235.97 139.9 L236.53 139.9 L237.09 139.9 L237.65 139.9 L238.21 139.9 L238.77 139.9 L239.32 139.9 L239.88 139.9 L240.44 139.9 L241 139.9 L241 139.9 Z" fill="#000"/><path d="M158.8 139.9 v-1.07 M159.76 139.9 v-0.4 M161.31 139.9 v-1.08 M162.5 139.9 v-0.34 M164.04 139.9 v-0.61 M165.56 139.9 v-0.8 M167.02 139.9 v-0.43 M168.45 139.9 v-0.48 M169.57 139.9 v-0.98 M171.04 139.9 v-0.45 M172.01 139.9 v-0.62 M173.23 139.9 v-0.61 M174.13 139.9 v-0.5 M175.51 139.9 v-1.02 M176.34 139.9 v-0.75 M177.74 139.9 v-0.33 M179.21 139.9 v-0.39 M180.49 139.9 v-0.74 M181.8 139.9 v-0.54 M182.93 139.9 v-0.77 M184.07 139.9 v-0.83 M185.23 139.9 v-0.65 M186.05 139.9 v-0.8 M187.24 139.9 v-0.49 M188.65 139.9 v-0.92 M189.82 139.9 v-0.44 M191 139.9 v-0.39 M191.9 139.9 v-0.64 M192.77 139.9 v-0.65 M193.98 139.9 v-0.33 M195.29 139.9 v-0.37 M196.68 139.9 v-0.92 M197.89 139.9 v-0.34 M199.09 139.9 v-0.6 M200.65 139.9 v-0.41 M202.14 139.9 v-1.1 M203.52 139.9 v-0.95 M204.48 139.9 v-1.09 M205.67 139.9 v-1.07 M207.2 139.9 v-0.43" stroke="#000" stroke-width="0.7" fill="none"/><polyline points="160.8,100.5 161.9,101.8 163.5,104.9 165,111.1 166.5,116.5 168.1,123.4 169.6,129.5 170.7,133.4" fill="none" stroke="#111" stroke-width="1.0" stroke-dasharray="2.2 2.3"/><line x1="158.1" y1="96.5" x2="241.1" y2="96.5" stroke="#222" stroke-width="1.0"/><line x1="240.7" y1="96.5" x2="240.7" y2="139.9" stroke="#111" stroke-width="1.0"/><line x1="158.1" y1="96.2" x2="158.1" y2="140.7" stroke="#000" stroke-width="1.9"/><line x1="157.3" y1="139.9" x2="241.1" y2="139.9" stroke="#000" stroke-width="1.2"/><path d="M158.5 139.9 v3.0 M164.5 139.9 v2.0 M167.5 139.9 v2.0 M170.5 139.9 v2.0 M172.5 139.9 v2.0 M174.5 139.9 v2.0 M175.5 139.9 v2.0 M176.5 139.9 v2.0 M177.5 139.9 v2.0 M178.5 139.9 v3.0 M184.5 139.9 v2.0 M188.5 139.9 v2.0 M191.5 139.9 v2.0 M193.5 139.9 v2.0 M194.5 139.9 v2.0 M196.5 139.9 v2.0 M197.5 139.9 v2.0 M198.5 139.9 v2.0 M199.5 139.9 v3.0 M205.5 139.9 v2.0 M209.5 139.9 v2.0 M211.5 139.9 v2.0 M213.5 139.9 v2.0 M215.5 139.9 v2.0 M216.5 139.9 v2.0 M218.5 139.9 v2.0 M219.5 139.9 v2.0 M220.5 139.9 v3.0 M226.5 139.9 v2.0 M229.5 139.9 v2.0 M232.5 139.9 v2.0 M234.5 139.9 v2.0 M236.5 139.9 v2.0 M237.5 139.9 v2.0 M238.5 139.9 v2.0 M239.5 139.9 v2.0 M240.5 139.9 v3.0" stroke="#000" stroke-width="0.9" fill="none"/><path d="M158.1 139.9 h-3.5 M158.1 137.73 h-2.5 M158.1 135.56 h-2.5 M158.1 133.39 h-2.5 M158.1 131.22 h-2.5 M158.1 129.05 h-3.5 M158.1 126.88 h-2.5 M158.1 124.71 h-2.5 M158.1 122.54 h-2.5 M158.1 120.37 h-2.5 M158.1 118.2 h-3.5 M158.1 116.03 h-2.5 M158.1 113.86 h-2.5 M158.1 111.69 h-2.5 M158.1 109.52 h-2.5 M158.1 107.35 h-3.5 M158.1 105.18 h-2.5 M158.1 103.01 h-2.5 M158.1 100.84 h-2.5 M158.1 98.67 h-2.5 M158.1 96.5 h-3.5" stroke="#000" stroke-width="0.75" fill="none"/><text x="153.6" y="150.4" class="tk">10</text><text x="160.6" y="146.5" class="sup">0</text><text x="174.25" y="150.4" class="tk">10</text><text x="181.25" y="146.5" class="sup">1</text><text x="194.9" y="150.4" class="tk">10</text><text x="201.9" y="146.5" class="sup">2</text><text x="215.55" y="150.4" class="tk">10</text><text x="222.55" y="146.5" class="sup">3</text><text x="236.2" y="150.4" class="tk">10</text><text x="243.2" y="146.5" class="sup">4</text><text transform="translate(199.4 156) scale(0.889 1)" class="xl" text-anchor="middle">FL1-H</text><text transform="translate(154.4 100.3) rotate(-90) scale(0.807 1)" class="yt" text-anchor="middle">40</text><text transform="translate(154.4 110.3) rotate(-90) scale(0.807 1)" class="yt" text-anchor="middle">30</text><text transform="translate(154.4 119.5) rotate(-90) scale(0.807 1)" class="yt" text-anchor="middle">20</text><text transform="translate(154.4 129.2) rotate(-90) scale(0.807 1)" class="yt" text-anchor="middle">10</text><text transform="translate(154.4 138) rotate(-90) scale(0.793 1)" class="yt" text-anchor="middle">0</text><text transform="translate(144.7 120) rotate(-90) scale(0.873 1)" class="ct" text-anchor="middle">Counts</text><text x="216.1" y="109.6" class="lb" textLength="19" lengthAdjust="spacingAndGlyphs">CD38</text><text x="208.1" y="133.2" class="lb" textLength="24.1">90.3%</text></g>
<g><path d="M291.2 135.1 L291.2 133.08 L291.95 130.47 L292.7 129.27 L293.27 129.17 L293.85 127.41 L294.43 127.97 L295 126.07 L295.57 126.17 L296.15 123.78 L296.73 123.58 L297.3 123.62 L297.88 120.91 L298.45 120.07 L299.03 119.77 L299.6 118.27 L300.18 116.41 L300.75 115.84 L301.32 114.76 L301.9 116.38 L302.7 114.36 L303.5 113.94 L304.1 112.27 L304.7 115.17 L305.25 111.69 L305.8 111.9 L306.8 115.36 L307.6 113.27 L308.4 113.87 L309.07 112.29 L309.73 111.87 L310.4 112.4 L311.2 112.86 L311.95 117.34 L312.7 117.61 L313.45 118.44 L314.2 121.11 L314.77 120.46 L315.35 123.09 L315.93 122.81 L316.5 123.08 L317.07 124.76 L317.65 124.83 L318.23 125.07 L318.8 126.97 L319.4 126.24 L320 128.22 L320.6 127.81 L321.2 129.03 L321.77 130.12 L322.35 130.08 L322.93 130.75 L323.5 130.85 L324.1 130.83 L324.7 131.25 L325.3 131.77 L325.9 132.67 L326.5 132.83 L327.09 133.03 L327.68 133.54 L328.26 132.85 L328.85 133.07 L329.44 133.62 L330.02 133.1 L330.61 133.2 L331.2 133.66 L331.75 133.44 L332.31 133.7 L332.86 133.59 L333.42 133.95 L333.97 133.98 L334.53 133.63 L335.08 134.05 L335.64 133.92 L336.19 133.62 L336.75 134.39 L337.3 133.76 L337.86 133.67 L338.42 133.62 L338.97 134.13 L339.53 134.36 L340.09 134.27 L340.65 133.92 L341.2 133.79 L341.76 133.55 L342.32 134.15 L342.88 134.07 L343.43 133.87 L343.99 134.15 L344.55 133.96 L345.11 134.43 L345.66 134.24 L346.22 133.79 L346.78 134.4 L347.34 133.6 L347.89 134.06 L348.45 133.94 L349.01 133.78 L349.57 133.62 L350.12 134.34 L350.68 133.83 L351.24 134.52 L351.8 134.67 L352.35 134.87 L352.91 135.07 L353.47 135.1 L354.03 135.1 L354.58 135.1 L355.14 135.1 L355.7 135.1 L356.26 135.1 L356.81 135.1 L357.37 135.1 L357.93 135.1 L358.49 135.1 L359.04 135.1 L359.6 135.1 L360.16 135.1 L360.72 135.1 L361.27 135.1 L361.83 135.1 L362.39 135.1 L362.95 135.1 L363.5 135.1 L364.06 135.1 L364.62 135.1 L365.18 135.1 L365.73 135.1 L366.29 135.1 L366.85 135.1 L367.41 135.1 L367.96 135.1 L368.52 135.1 L369.08 135.1 L369.64 135.1 L370.19 135.1 L370.75 135.1 L371.31 135.1 L371.87 135.1 L372.42 135.1 L372.98 135.1 L373.54 135.1 L374.1 135.1 L374.65 135.1 L375.21 135.1 L375.77 135.1 L376.33 135.1 L376.88 135.1 L377.44 135.1 L378 135.1 L378 135.1 Z" fill="#000"/><path d="M291.2 135.1 v-1.05 M292.11 135.1 v-0.46 M293.4 135.1 v-0.71 M294.71 135.1 v-0.95 M295.65 135.1 v-0.55 M296.69 135.1 v-0.34 M298.2 135.1 v-0.93 M299.58 135.1 v-0.31 M301.05 135.1 v-0.9 M302.23 135.1 v-0.89 M303.39 135.1 v-0.48 M304.27 135.1 v-0.49 M305.1 135.1 v-0.57 M306.5 135.1 v-0.86 M307.98 135.1 v-0.87 M308.99 135.1 v-0.74 M310.14 135.1 v-0.93 M311.36 135.1 v-0.51 M312.67 135.1 v-1.07 M313.65 135.1 v-1 M314.46 135.1 v-0.51 M315.45 135.1 v-0.9 M317 135.1 v-0.9 M318.06 135.1 v-1 M319.13 135.1 v-0.49 M320.65 135.1 v-0.8 M322.01 135.1 v-0.83 M323.59 135.1 v-0.68 M325.06 135.1 v-0.86 M326.55 135.1 v-0.65 M327.93 135.1 v-0.76 M328.97 135.1 v-0.47 M330.27 135.1 v-0.36 M331.8 135.1 v-0.42 M332.62 135.1 v-0.39 M334.17 135.1 v-0.58 M335.08 135.1 v-0.32 M335.91 135.1 v-0.85 M337.22 135.1 v-0.86 M338.61 135.1 v-0.35 M339.88 135.1 v-0.59 M341.34 135.1 v-0.96 M342.85 135.1 v-0.35 M344.34 135.1 v-1.03 M345.9 135.1 v-0.39 M346.86 135.1 v-0.39 M347.69 135.1 v-0.98 M349.14 135.1 v-0.81 M350.6 135.1 v-0.81 M351.63 135.1 v-0.38 M352.51 135.1 v-0.91" stroke="#000" stroke-width="0.7" fill="none"/><polyline points="291.5,125.7 292.7,121.1 294.5,116.5 296.5,111.8 298.8,109.5 301.9,107.2" fill="none" stroke="#111" stroke-width="1.0" stroke-dasharray="2.2 2.3"/><line x1="290.4" y1="94.9" x2="378.5" y2="94.9" stroke="#222" stroke-width="1.0"/><line x1="378.1" y1="94.9" x2="378.1" y2="135.1" stroke="#111" stroke-width="1.0"/><line x1="290.4" y1="94.6" x2="290.4" y2="135.9" stroke="#000" stroke-width="1.9"/><line x1="289.6" y1="135.1" x2="378.5" y2="135.1" stroke="#000" stroke-width="1.2"/><path d="M290.5 135.1 v3.0 M297.5 135.1 v2.0 M300.5 135.1 v2.0 M303.5 135.1 v2.0 M305.5 135.1 v2.0 M307.5 135.1 v2.0 M308.5 135.1 v2.0 M310.5 135.1 v2.0 M311.5 135.1 v2.0 M312.5 135.1 v3.0 M318.5 135.1 v2.0 M322.5 135.1 v2.0 M325.5 135.1 v2.0 M327.5 135.1 v2.0 M329.5 135.1 v2.0 M330.5 135.1 v2.0 M332.5 135.1 v2.0 M333.5 135.1 v2.0 M334.5 135.1 v3.0 M340.5 135.1 v2.0 M344.5 135.1 v2.0 M347.5 135.1 v2.0 M349.5 135.1 v2.0 M351.5 135.1 v2.0 M352.5 135.1 v2.0 M354.5 135.1 v2.0 M355.5 135.1 v2.0 M356.5 135.1 v3.0 M362.5 135.1 v2.0 M366.5 135.1 v2.0 M369.5 135.1 v2.0 M371.5 135.1 v2.0 M373.5 135.1 v2.0 M374.5 135.1 v2.0 M375.5 135.1 v2.0 M377.5 135.1 v2.0 M378.5 135.1 v3.0" stroke="#000" stroke-width="0.9" fill="none"/><path d="M290.4 135.1 h-3.5 M290.4 131.08 h-2.5 M290.4 127.06 h-3.5 M290.4 123.04 h-2.5 M290.4 119.02 h-3.5 M290.4 115 h-2.5 M290.4 110.98 h-3.5 M290.4 106.96 h-2.5 M290.4 102.94 h-3.5 M290.4 98.92 h-2.5 M290.4 94.9 h-3.5" stroke="#000" stroke-width="0.75" fill="none"/><text x="285.9" y="145.5" class="tk">10</text><text x="292.9" y="141.6" class="sup">0</text><text x="307.82" y="145.5" class="tk">10</text><text x="314.82" y="141.6" class="sup">1</text><text x="329.75" y="145.5" class="tk">10</text><text x="336.75" y="141.6" class="sup">2</text><text x="351.68" y="145.5" class="tk">10</text><text x="358.68" y="141.6" class="sup">3</text><text x="373.6" y="145.5" class="tk">10</text><text x="380.6" y="141.6" class="sup">4</text><text transform="translate(334.25 151.4) scale(0.889 1)" class="xl" text-anchor="middle">FL1-H</text><text transform="translate(285.9 94.3) rotate(-90) scale(0.807 1)" class="yt" text-anchor="middle">50</text><text transform="translate(285.9 133.6) rotate(-90) scale(0.793 1)" class="yt" text-anchor="middle">0</text><text transform="translate(278.8 116.5) rotate(-90) scale(0.873 1)" class="ct" text-anchor="middle">Counts</text><text x="352.7" y="107.2" class="lb" textLength="18.9" lengthAdjust="spacingAndGlyphs">CD56</text><text x="354.9" y="127.5" class="lb" textLength="16.2">15%</text></g>
<g><path d="M458.3 138.2 L458.3 136.21 L458.86 136.21 L459.42 135.67 L459.98 135.81 L460.53 135.73 L461.09 136.1 L461.65 135.6 L462.21 135.44 L462.77 136.07 L463.32 135.43 L463.88 135.73 L464.44 135.35 L465 134.54 L465.56 134.87 L466.12 134.77 L466.68 135.07 L467.23 134.41 L467.79 134.74 L468.35 134.4 L468.91 133.85 L469.47 134.58 L470.02 133.42 L470.58 134.29 L471.14 133.27 L471.7 132.9 L472.25 132.88 L472.8 133.41 L473.35 133.46 L473.9 131.68 L474.45 132.15 L475 131.86 L475.55 132.08 L476.1 130.76 L476.76 130.63 L477.42 129.69 L478.08 129.97 L478.74 128.17 L479.4 128.94 L479.97 127.11 L480.53 126.53 L481.1 127.21 L481.67 126.33 L482.23 124.98 L482.8 125.83 L483.35 123.91 L483.9 125.18 L484.45 124.42 L485 124.15 L485.55 123.19 L486.1 121.89 L486.76 121.55 L487.42 121.07 L488.08 122.11 L488.74 119.17 L489.4 121.23 L489.97 117.95 L490.53 118 L491.1 117.65 L491.67 119.3 L492.23 117.42 L492.8 116.49 L493.53 118.04 L494.27 115.66 L495 116.27 L495.8 117.86 L496.6 119.94 L497.17 121.74 L497.73 123.24 L498.3 124.31 L498.9 126.13 L499.5 127.65 L500.1 130.83 L500.83 131.8 L501.57 133.23 L502.3 133.76 L502.93 134.49 L503.57 135.27 L504.2 135.39 L504.83 135.24 L505.47 135.99 L506.1 136.8 L506.69 136.17 L507.27 136.16 L507.86 136.3 L508.44 136.75 L509.03 136.93 L509.61 136.27 L510.2 136.31 L510.79 136.43 L511.37 136.74 L511.96 137.24 L512.54 137.22 L513.13 137.8 L513.71 138.07 L514.3 138.2 L514.3 138.2 Z" fill="#000"/><path d="M458.3 138.2 v-0.56 M459.25 138.2 v-1.08 M460.63 138.2 v-0.38 M462.2 138.2 v-0.38 M463.31 138.2 v-1.09 M464.75 138.2 v-0.89 M465.9 138.2 v-0.46 M467.21 138.2 v-0.39 M468.17 138.2 v-0.61 M469 138.2 v-0.62 M470.43 138.2 v-0.85 M471.63 138.2 v-0.81 M472.8 138.2 v-0.41 M474.09 138.2 v-0.62 M475.48 138.2 v-1.03 M476.62 138.2 v-0.76 M478.02 138.2 v-0.64 M479 138.2 v-0.88 M480.51 138.2 v-0.92 M481.87 138.2 v-0.98 M483.21 138.2 v-0.81 M484.37 138.2 v-0.55 M485.68 138.2 v-0.38 M486.81 138.2 v-0.93 M488.18 138.2 v-0.8 M489.18 138.2 v-0.64 M490.35 138.2 v-0.8 M491.48 138.2 v-0.84 M493.02 138.2 v-0.45 M494.34 138.2 v-0.92 M495.45 138.2 v-0.69 M497.03 138.2 v-0.33 M498.27 138.2 v-0.43 M499.69 138.2 v-1.05 M500.91 138.2 v-0.38 M502.17 138.2 v-0.73 M503.54 138.2 v-0.71 M504.85 138.2 v-0.96 M506.07 138.2 v-0.63 M507.63 138.2 v-0.47 M508.98 138.2 v-0.61 M510.39 138.2 v-0.4 M511.98 138.2 v-0.58 M512.82 138.2 v-0.52 M513.94 138.2 v-0.31" stroke="#000" stroke-width="0.7" fill="none"/><polyline points="429.4,135.8 431.2,130.2 433.4,121.3 436.1,113.6 439.4,109.8 441.7,111.3 443.9,116.9 446.1,123.6 448.3,130.2 450.6,134.2 453.9,135.8 458.3,135.1 461.7,135.8" fill="none" stroke="#111" stroke-width="1.0" stroke-dasharray="2.2 2.3"/><line x1="426.8" y1="94.1" x2="514.7" y2="93.5" stroke="#222" stroke-width="1.0"/><line x1="514.3" y1="93.5" x2="514.3" y2="138.2" stroke="#111" stroke-width="1.0"/><line x1="426.8" y1="93.8" x2="426.8" y2="139" stroke="#000" stroke-width="1.9"/><line x1="426" y1="138.2" x2="514.7" y2="138.2" stroke="#000" stroke-width="1.2"/><path d="M426.5 138.2 v3.0 M433.5 138.2 v2.0 M437.5 138.2 v2.0 M439.5 138.2 v2.0 M442.5 138.2 v2.0 M443.5 138.2 v2.0 M445.5 138.2 v2.0 M446.5 138.2 v2.0 M447.5 138.2 v2.0 M448.5 138.2 v3.0 M455.5 138.2 v2.0 M459.5 138.2 v2.0 M461.5 138.2 v2.0 M463.5 138.2 v2.0 M465.5 138.2 v2.0 M467.5 138.2 v2.0 M468.5 138.2 v2.0 M469.5 138.2 v2.0 M470.5 138.2 v3.0 M477.5 138.2 v2.0 M480.5 138.2 v2.0 M483.5 138.2 v2.0 M485.5 138.2 v2.0 M487.5 138.2 v2.0 M489.5 138.2 v2.0 M490.5 138.2 v2.0 M491.5 138.2 v2.0 M492.5 138.2 v3.0 M499.5 138.2 v2.0 M502.5 138.2 v2.0 M505.5 138.2 v2.0 M507.5 138.2 v2.0 M509.5 138.2 v2.0 M510.5 138.2 v2.0 M512.5 138.2 v2.0 M513.5 138.2 v2.0 M514.5 138.2 v3.0" stroke="#000" stroke-width="0.9" fill="none"/><path d="M426.8 138.2 h-3.5 M426.8 135.05 h-2.5 M426.8 131.9 h-3.5 M426.8 128.75 h-2.5 M426.8 125.6 h-3.5 M426.8 122.45 h-2.5 M426.8 119.3 h-3.5 M426.8 116.15 h-2.5 M426.8 113 h-3.5 M426.8 109.85 h-2.5 M426.8 106.7 h-3.5 M426.8 103.55 h-2.5 M426.8 100.4 h-3.5 M426.8 97.25 h-2.5 M426.8 94.1 h-3.5" stroke="#000" stroke-width="0.75" fill="none"/><text x="422.3" y="148.2" class="tk">10</text><text x="429.3" y="144.3" class="sup">0</text><text x="444.18" y="148.2" class="tk">10</text><text x="451.18" y="144.3" class="sup">1</text><text x="466.05" y="148.2" class="tk">10</text><text x="473.05" y="144.3" class="sup">2</text><text x="487.92" y="148.2" class="tk">10</text><text x="494.92" y="144.3" class="sup">3</text><text x="509.8" y="148.2" class="tk">10</text><text x="516.8" y="144.3" class="sup">4</text><text transform="translate(470.55 154.4) scale(0.889 1)" class="xl" text-anchor="middle">FL1-H</text><text transform="translate(422.3 93.5) rotate(-90) scale(0.807 1)" class="yt" text-anchor="middle">70</text><text transform="translate(422.3 136.7) rotate(-90) scale(0.793 1)" class="yt" text-anchor="middle">0</text><text transform="translate(415.2 117.4) rotate(-90) scale(0.873 1)" class="ct" text-anchor="middle">Counts</text><text x="455" y="105.7" class="lb" textLength="39.4">HLA-class I</text><text x="455" y="123.2" class="lb" textLength="21.1">100%</text></g>
<g><path d="M19.1 227 L19.1 225.22 L19.6 222.29 L20.35 220.1 L21.1 218.26 L21.83 217.01 L22.57 216.96 L23.3 216.32 L23.87 215 L24.43 213.89 L25 214.94 L25.57 213.56 L26.13 212.73 L26.7 212.13 L27.25 213.47 L27.8 213.2 L28.35 212.37 L28.9 211.55 L29.45 211.44 L30 210.11 L30.66 211.81 L31.32 209.54 L31.98 209.95 L32.64 210.06 L33.3 209.61 L33.92 207.96 L34.54 206.83 L35.16 207.14 L35.78 205.17 L36.4 207.03 L37.02 205.91 L37.65 208.09 L38.27 206.62 L38.9 207.49 L39.45 207.38 L40 208.23 L40.55 207.75 L41.1 207.47 L41.65 210 L42.2 208.93 L42.77 209.16 L43.33 209.68 L43.9 210.54 L44.47 210.73 L45.03 211.66 L45.6 212.05 L46.16 211.74 L46.72 213.78 L47.28 214.08 L47.84 212.56 L48.4 215.01 L49.08 216.01 L49.75 216.54 L50.42 215.98 L51.1 218.27 L51.83 218.95 L52.57 218.96 L53.3 220.12 L53.88 222.26 L54.45 222.47 L55.02 222.59 L55.6 223.11 L56.26 223.43 L56.92 223.81 L57.58 224.7 L58.24 224.47 L58.9 224.53 L59.45 225.38 L60 225.31 L60.55 224.7 L61.1 225.51 L61.65 225.26 L62.2 225.49 L62.75 225.42 L63.3 225.7 L63.85 225.64 L64.4 225.74 L64.96 225.35 L65.52 226.12 L66.07 226.27 L66.63 226.54 L67.19 226.83 L67.75 227 L68.3 227 L68.86 227 L69.42 227 L69.98 227 L70.54 227 L71.09 227 L71.65 227 L72.21 227 L72.77 227 L73.32 227 L73.88 227 L74.44 227 L75 227 L75.55 227 L76.11 227 L76.67 227 L77.23 227 L77.79 227 L78.34 227 L78.9 227 L79.46 227 L80.02 227 L80.57 227 L81.13 227 L81.69 227 L82.25 227 L82.81 227 L83.36 227 L83.92 227 L84.48 227 L85.04 227 L85.59 227 L86.15 227 L86.71 227 L87.27 227 L87.83 227 L88.38 227 L88.94 227 L89.5 227 L90.06 227 L90.61 227 L91.17 227 L91.73 227 L92.29 227 L92.85 227 L93.4 227 L93.96 227 L94.52 227 L95.08 227 L95.63 227 L96.19 227 L96.75 227 L97.31 227 L97.86 227 L98.42 227 L98.98 227 L99.54 227 L100.1 227 L100.65 227 L101.21 227 L101.77 227 L102.33 227 L102.88 227 L103.44 227 L104 227 L104 227 Z" fill="#000"/><path d="M19.1 227 v-0.89 M20.25 227 v-1.01 M21.49 227 v-0.51 M22.48 227 v-0.41 M23.68 227 v-0.35 M24.85 227 v-0.42 M26.04 227 v-0.7 M27.28 227 v-0.99 M28.08 227 v-0.97 M29.25 227 v-0.75 M30.59 227 v-0.97 M31.69 227 v-0.64 M33.26 227 v-0.36 M34.57 227 v-0.81 M35.39 227 v-0.79 M36.73 227 v-1.05 M37.8 227 v-1.09 M39.01 227 v-0.69 M40.52 227 v-0.33 M41.9 227 v-0.8 M42.97 227 v-0.99 M44.06 227 v-0.68 M45.28 227 v-0.92 M46.25 227 v-0.65 M47.39 227 v-0.74 M48.85 227 v-0.53 M50.31 227 v-0.62 M51.52 227 v-0.52 M52.72 227 v-1.08 M54.05 227 v-0.93 M55.11 227 v-0.55 M56.15 227 v-0.77 M57.46 227 v-0.93 M58.29 227 v-0.88 M59.8 227 v-0.74 M60.64 227 v-0.54 M61.44 227 v-0.45 M62.98 227 v-0.79 M64.31 227 v-0.93 M65.83 227 v-0.79 M67.13 227 v-0.8" stroke="#000" stroke-width="0.7" fill="none"/><polyline points="21.3,196.3 22.8,195.8 23.8,197.2 24.9,199.8 26.7,204.2 28.4,208.7" fill="none" stroke="#111" stroke-width="1.0" stroke-dasharray="2.2 2.3"/><line x1="18.5" y1="182.6" x2="104.4" y2="183.3" stroke="#222" stroke-width="1.0"/><line x1="104" y1="183.3" x2="104" y2="227" stroke="#111" stroke-width="1.0"/><line x1="18.5" y1="182.3" x2="18.5" y2="227.8" stroke="#000" stroke-width="1.9"/><line x1="17.7" y1="227" x2="104.4" y2="227" stroke="#000" stroke-width="1.2"/><path d="M18.5 227 v3.0 M24.5 227 v2.0 M28.5 227 v2.0 M31.5 227 v2.0 M33.5 227 v2.0 M35.5 227 v2.0 M36.5 227 v2.0 M37.5 227 v2.0 M38.5 227 v2.0 M39.5 227 v3.0 M46.5 227 v2.0 M50.5 227 v2.0 M52.5 227 v2.0 M54.5 227 v2.0 M56.5 227 v2.0 M57.5 227 v2.0 M59.5 227 v2.0 M60.5 227 v2.0 M61.5 227 v3.0 M67.5 227 v2.0 M71.5 227 v2.0 M74.5 227 v2.0 M76.5 227 v2.0 M77.5 227 v2.0 M79.5 227 v2.0 M80.5 227 v2.0 M81.5 227 v2.0 M82.5 227 v3.0 M89.5 227 v2.0 M92.5 227 v2.0 M95.5 227 v2.0 M97.5 227 v2.0 M99.5 227 v2.0 M100.5 227 v2.0 M101.5 227 v2.0 M103.5 227 v2.0 M104.5 227 v3.0" stroke="#000" stroke-width="0.9" fill="none"/><path d="M18.5 227 h-3.5 M18.5 224.78 h-2.5 M18.5 222.56 h-2.5 M18.5 220.34 h-2.5 M18.5 218.12 h-2.5 M18.5 215.9 h-3.5 M18.5 213.68 h-2.5 M18.5 211.46 h-2.5 M18.5 209.24 h-2.5 M18.5 207.02 h-2.5 M18.5 204.8 h-3.5 M18.5 202.58 h-2.5 M18.5 200.36 h-2.5 M18.5 198.14 h-2.5 M18.5 195.92 h-2.5 M18.5 193.7 h-3.5 M18.5 191.48 h-2.5 M18.5 189.26 h-2.5 M18.5 187.04 h-2.5 M18.5 184.82 h-2.5 M18.5 182.6 h-3.5" stroke="#000" stroke-width="0.75" fill="none"/><text x="14" y="238.2" class="tk">10</text><text x="21" y="234.3" class="sup">0</text><text x="35.38" y="238.2" class="tk">10</text><text x="42.38" y="234.3" class="sup">1</text><text x="56.75" y="238.2" class="tk">10</text><text x="63.75" y="234.3" class="sup">2</text><text x="78.12" y="238.2" class="tk">10</text><text x="85.12" y="234.3" class="sup">3</text><text x="99.5" y="238.2" class="tk">10</text><text x="106.5" y="234.3" class="sup">4</text><text transform="translate(61.25 244) scale(0.889 1)" class="xl" text-anchor="middle">FL1-H</text><text transform="translate(13.2 182) rotate(-90) scale(0.807 1)" class="yt" text-anchor="middle">40</text><text transform="translate(13.2 225.5) rotate(-90) scale(0.793 1)" class="yt" text-anchor="middle">0</text><text transform="translate(5.9 205.6) rotate(-90) scale(0.873 1)" class="ct" text-anchor="middle">Counts</text><text x="78.1" y="196" class="lb" textLength="19.2" lengthAdjust="spacingAndGlyphs">CD28</text><text x="81.2" y="220.5" class="lb" textLength="16.3">72%</text></g>
<g><path d="M158 227.8 L158 226.49 L158 191.12 L158.9 193.52 L159.6 200.07 L160.3 201.06 L161.2 199.59 L162 197.89 L162.8 198.72 L163.55 198.78 L164.3 201.83 L165 204.51 L165.7 205.83 L166.45 207.66 L167.2 211.87 L168 214.41 L168.8 216.54 L169.4 217.77 L170 219.78 L170.6 221.88 L171.15 222.46 L171.7 223.36 L172.25 224.36 L172.8 225.41 L173.46 224.61 L174.12 225.42 L174.78 225.06 L175.44 225.37 L176.1 226.32 L176.66 226.12 L177.21 226.51 L177.77 226.07 L178.33 225.68 L178.89 226.1 L179.44 226.35 L180 226.74 L180.56 226.82 L181.11 226.36 L181.67 226.34 L182.23 226.08 L182.79 226.65 L183.34 226.28 L183.9 226.27 L184.45 226.14 L185 226.13 L185.55 226.78 L186.1 226.25 L186.65 227.06 L187.2 226.22 L187.75 226.97 L188.3 226.26 L188.85 226.16 L189.4 226.83 L189.96 226.38 L190.51 226.85 L191.06 226.33 L191.61 226.2 L192.16 226.89 L192.71 226.83 L193.26 226.97 L193.81 226.85 L194.36 226.24 L194.91 226.76 L195.46 226.84 L196.01 226.61 L196.56 227.06 L197.11 226.41 L197.66 227.09 L198.21 226.94 L198.76 226.5 L199.31 226.73 L199.86 227.37 L200.41 227.58 L200.97 227.79 L201.52 227.8 L202.07 227.8 L202.62 227.8 L203.17 227.8 L203.72 227.8 L204.27 227.8 L204.82 227.8 L205.37 227.8 L205.92 227.8 L206.47 227.8 L207.02 227.8 L207.57 227.8 L208.12 227.8 L208.67 227.8 L209.22 227.8 L209.77 227.8 L210.32 227.8 L210.87 227.8 L211.42 227.8 L211.98 227.8 L212.53 227.8 L213.08 227.8 L213.63 227.8 L214.18 227.8 L214.73 227.8 L215.28 227.8 L215.83 227.8 L216.38 227.8 L216.93 227.8 L217.48 227.8 L218.03 227.8 L218.58 227.8 L219.13 227.8 L219.68 227.8 L220.23 227.8 L220.78 227.8 L221.33 227.8 L221.88 227.8 L222.43 227.8 L222.99 227.8 L223.54 227.8 L224.09 227.8 L224.64 227.8 L225.19 227.8 L225.74 227.8 L226.29 227.8 L226.84 227.8 L227.39 227.8 L227.94 227.8 L228.49 227.8 L229.04 227.8 L229.59 227.8 L230.14 227.8 L230.69 227.8 L231.24 227.8 L231.79 227.8 L232.34 227.8 L232.89 227.8 L233.44 227.8 L234 227.8 L234.55 227.8 L235.1 227.8 L235.65 227.8 L236.2 227.8 L236.75 227.8 L237.3 227.8 L237.85 227.8 L238.4 227.8 L238.95 227.8 L239.5 227.8 L239.5 227.8 Z" fill="#000"/><path d="M158 227.8 v-0.82 M159.45 227.8 v-0.36 M160.5 227.8 v-0.88 M161.44 227.8 v-0.99 M162.62 227.8 v-0.35 M163.72 227.8 v-0.76 M164.87 227.8 v-0.84 M165.79 227.8 v-0.94 M166.88 227.8 v-0.82 M168.18 227.8 v-0.63 M169.29 227.8 v-0.93 M170.84 227.8 v-0.93 M172.1 227.8 v-0.53 M172.95 227.8 v-1.08 M174.31 227.8 v-0.96 M175.37 227.8 v-0.78 M176.96 227.8 v-0.97 M178.24 227.8 v-0.55 M179.38 227.8 v-1.01 M180.48 227.8 v-0.85 M181.76 227.8 v-1.02 M183.21 227.8 v-0.53 M184.01 227.8 v-0.51 M185.15 227.8 v-0.77 M186.6 227.8 v-1.01 M187.44 227.8 v-0.97 M188.88 227.8 v-0.99 M190.14 227.8 v-0.52 M191.62 227.8 v-0.95 M192.97 227.8 v-1.03 M194.05 227.8 v-0.37 M195.29 227.8 v-0.94 M196.25 227.8 v-0.9 M197.8 227.8 v-0.49 M199.08 227.8 v-0.84 M200.25 227.8 v-0.47" stroke="#000" stroke-width="0.7" fill="none"/><line x1="159.8" y1="194.8" x2="161" y2="193.3" stroke="#111" stroke-width="1.0"/><line x1="161.3" y1="193.2" x2="162.5" y2="194.9" stroke="#111" stroke-width="1.0"/><line x1="157.5" y1="182.6" x2="240.2" y2="182.6" stroke="#222" stroke-width="1.0"/><line x1="239.8" y1="182.6" x2="239.8" y2="227.8" stroke="#111" stroke-width="1.0"/><line x1="157.5" y1="182.3" x2="157.5" y2="228.6" stroke="#000" stroke-width="1.9"/><line x1="156.7" y1="227.8" x2="240.2" y2="227.8" stroke="#000" stroke-width="1.2"/><path d="M157.5 227.8 v3.0 M163.5 227.8 v2.0 M167.5 227.8 v2.0 M169.5 227.8 v2.0 M171.5 227.8 v2.0 M173.5 227.8 v2.0 M174.5 227.8 v2.0 M176.5 227.8 v2.0 M177.5 227.8 v2.0 M178.5 227.8 v3.0 M184.5 227.8 v2.0 M187.5 227.8 v2.0 M190.5 227.8 v2.0 M192.5 227.8 v2.0 M194.5 227.8 v2.0 M195.5 227.8 v2.0 M196.5 227.8 v2.0 M197.5 227.8 v2.0 M198.5 227.8 v3.0 M204.5 227.8 v2.0 M208.5 227.8 v2.0 M211.5 227.8 v2.0 M213.5 227.8 v2.0 M214.5 227.8 v2.0 M216.5 227.8 v2.0 M217.5 227.8 v2.0 M218.5 227.8 v2.0 M219.5 227.8 v3.0 M225.5 227.8 v2.0 M229.5 227.8 v2.0 M231.5 227.8 v2.0 M233.5 227.8 v2.0 M235.5 227.8 v2.0 M236.5 227.8 v2.0 M237.5 227.8 v2.0 M238.5 227.8 v2.0 M239.5 227.8 v3.0" stroke="#000" stroke-width="0.9" fill="none"/><path d="M157.5 227.8 h-3.5 M157.5 224.79 h-2.5 M157.5 221.77 h-2.5 M157.5 218.76 h-2.5 M157.5 215.75 h-2.5 M157.5 212.73 h-3.5 M157.5 209.72 h-2.5 M157.5 206.71 h-2.5 M157.5 203.69 h-2.5 M157.5 200.68 h-2.5 M157.5 197.67 h-3.5 M157.5 194.65 h-2.5 M157.5 191.64 h-2.5 M157.5 188.63 h-2.5 M157.5 185.61 h-2.5 M157.5 182.6 h-3.5" stroke="#000" stroke-width="0.75" fill="none"/><text x="153" y="238.6" class="tk">10</text><text x="160" y="234.7" class="sup">0</text><text x="173.57" y="238.6" class="tk">10</text><text x="180.57" y="234.7" class="sup">1</text><text x="194.15" y="238.6" class="tk">10</text><text x="201.15" y="234.7" class="sup">2</text><text x="214.73" y="238.6" class="tk">10</text><text x="221.73" y="234.7" class="sup">3</text><text x="235.3" y="238.6" class="tk">10</text><text x="242.3" y="234.7" class="sup">4</text><text transform="translate(198.65 244.9) scale(0.889 1)" class="xl" text-anchor="middle">FL1-H</text><text transform="translate(153 182) rotate(-90) scale(0.807 1)" class="yt" text-anchor="middle">60</text><text transform="translate(153 226.3) rotate(-90) scale(0.793 1)" class="yt" text-anchor="middle">0</text><text transform="translate(145.2 207) rotate(-90) scale(0.873 1)" class="ct" text-anchor="middle">Counts</text><text x="209" y="196.1" class="lb" textLength="12.3" lengthAdjust="spacingAndGlyphs">HLA</text><text x="223.3" y="196.1" class="lb" textLength="11" lengthAdjust="spacingAndGlyphs">DR</text><text x="217.5" y="217" class="lb" textLength="14.4" lengthAdjust="spacingAndGlyphs">&lt;5%</text></g>
<g><path d="M315.6 227.5 L315.6 226.64 L316.23 226.52 L316.86 226.05 L317.49 225.51 L318.11 226.09 L318.74 225.9 L319.37 225.17 L320 225.39 L320.55 225.21 L321.1 224.67 L321.65 223.68 L322.2 223.07 L322.75 222.68 L323.3 221.53 L323.88 220.39 L324.45 219.22 L325.03 219.09 L325.6 217.31 L326.33 216.61 L327.07 215.1 L327.8 214.24 L328.53 212.16 L329.27 210.72 L330 212.37 L330.73 209.41 L331.47 207.42 L332.2 208.05 L332.93 207.68 L333.67 204.63 L334.4 205.23 L335 203.94 L335.6 204.1 L336.2 201.97 L337 202.86 L337.8 206.97 L338.4 206.76 L339 205.69 L339.6 206.19 L340.2 205.37 L340.8 207.35 L341.4 207 L342 209.58 L342.6 209.81 L343.2 210.79 L343.93 212.96 L344.67 212.82 L345.4 214.2 L346.1 216.53 L346.8 218.43 L347.5 220.21 L348.2 222.27 L348.9 224.97 L349.45 225.56 L350 225.36 L350.55 226.12 L351.1 226.31 L351.65 225.72 L352.2 226.56 L352.76 226.62 L353.32 226.94 L353.89 227.15 L354.45 227.34 L355.01 227.5 L355.57 227.5 L356.14 227.5 L356.7 227.5 L356.7 227.5 Z" fill="#000"/><path d="M315.6 227.5 v-0.4 M317.17 227.5 v-0.51 M318.42 227.5 v-0.81 M319.98 227.5 v-0.84 M321.1 227.5 v-0.66 M322.03 227.5 v-1.07 M323.62 227.5 v-0.48 M324.45 227.5 v-0.5 M325.53 227.5 v-1.02 M327.06 227.5 v-0.97 M327.89 227.5 v-0.93 M329.26 227.5 v-0.82 M330.85 227.5 v-0.34 M331.77 227.5 v-0.9 M333.32 227.5 v-0.84 M334.36 227.5 v-0.77 M335.76 227.5 v-0.38 M336.82 227.5 v-0.51 M337.72 227.5 v-0.69 M338.66 227.5 v-0.49 M339.57 227.5 v-0.84 M340.38 227.5 v-0.87 M341.34 227.5 v-0.33 M342.88 227.5 v-0.48 M344.43 227.5 v-0.99 M345.94 227.5 v-0.41 M347.09 227.5 v-0.38 M348.64 227.5 v-0.97 M349.94 227.5 v-0.66 M351.01 227.5 v-0.96 M352.19 227.5 v-0.8 M353.11 227.5 v-0.48 M353.95 227.5 v-0.87" stroke="#000" stroke-width="0.7" fill="none"/><polyline points="291.8,219.8 292.7,212 294.3,207.5 294.6,203 294.9,199 295.9,196 298,193.5 299.3,194.2 301.1,197.6 302.9,205.3 304.4,214.2 306.7,220.9 309.6,224.2 313.3,225.3 316.7,224.9" fill="none" stroke="#111" stroke-width="1.0" stroke-dasharray="2.2 2.3"/><line x1="290" y1="184" x2="378.1" y2="182.9" stroke="#222" stroke-width="1.0"/><line x1="377.7" y1="182.9" x2="377.7" y2="227.5" stroke="#111" stroke-width="1.0"/><line x1="290" y1="183.7" x2="290" y2="228.3" stroke="#000" stroke-width="1.9"/><line x1="289.2" y1="227.5" x2="378.1" y2="227.5" stroke="#000" stroke-width="1.2"/><path d="M290.5 227.5 v3.0 M296.5 227.5 v2.0 M300.5 227.5 v2.0 M303.5 227.5 v2.0 M305.5 227.5 v2.0 M307.5 227.5 v2.0 M308.5 227.5 v2.0 M309.5 227.5 v2.0 M310.5 227.5 v2.0 M311.5 227.5 v3.0 M318.5 227.5 v2.0 M322.5 227.5 v2.0 M325.5 227.5 v2.0 M327.5 227.5 v2.0 M328.5 227.5 v2.0 M330.5 227.5 v2.0 M331.5 227.5 v2.0 M332.5 227.5 v2.0 M333.5 227.5 v3.0 M340.5 227.5 v2.0 M344.5 227.5 v2.0 M347.5 227.5 v2.0 M349.5 227.5 v2.0 M350.5 227.5 v2.0 M352.5 227.5 v2.0 M353.5 227.5 v2.0 M354.5 227.5 v2.0 M355.5 227.5 v3.0 M362.5 227.5 v2.0 M366.5 227.5 v2.0 M368.5 227.5 v2.0 M371.5 227.5 v2.0 M372.5 227.5 v2.0 M374.5 227.5 v2.0 M375.5 227.5 v2.0 M376.5 227.5 v2.0 M377.5 227.5 v3.0" stroke="#000" stroke-width="0.9" fill="none"/><path d="M290 227.5 h-3.5 M290 224.39 h-2.5 M290 221.29 h-3.5 M290 218.18 h-2.5 M290 215.07 h-3.5 M290 211.96 h-2.5 M290 208.86 h-3.5 M290 205.75 h-2.5 M290 202.64 h-3.5 M290 199.54 h-2.5 M290 196.43 h-3.5 M290 193.32 h-2.5 M290 190.21 h-3.5 M290 187.11 h-2.5 M290 184 h-3.5" stroke="#000" stroke-width="0.75" fill="none"/><text x="285.5" y="237.7" class="tk">10</text><text x="292.5" y="233.8" class="sup">0</text><text x="307.43" y="237.7" class="tk">10</text><text x="314.43" y="233.8" class="sup">1</text><text x="329.35" y="237.7" class="tk">10</text><text x="336.35" y="233.8" class="sup">2</text><text x="351.27" y="237.7" class="tk">10</text><text x="358.27" y="233.8" class="sup">3</text><text x="373.2" y="237.7" class="tk">10</text><text x="380.2" y="233.8" class="sup">4</text><text transform="translate(333.85 244.3) scale(0.889 1)" class="xl" text-anchor="middle">FL2-H</text><text transform="translate(285.5 183.4) rotate(-90) scale(0.807 1)" class="yt" text-anchor="middle">70</text><text transform="translate(285.5 226) rotate(-90) scale(0.793 1)" class="yt" text-anchor="middle">0</text><text transform="translate(278.4 206.4) rotate(-90) scale(0.873 1)" class="ct" text-anchor="middle">Counts</text><text x="352.2" y="195.3" class="lb" textLength="18.8" lengthAdjust="spacingAndGlyphs">CD40</text><text x="353.8" y="214" class="lb" textLength="16.8">99%</text></g>
<g><path d="M427.7 226.6 L427.7 225.48 L428.35 225.04 L429 223.22 L429.73 222.31 L430.47 220.86 L431.2 219.93 L431.88 220.01 L432.55 218.24 L433.22 217.02 L433.9 216.78 L434.45 215.77 L435 216.44 L435.55 214 L436.1 215.42 L436.65 212.53 L437.2 214.01 L437.77 212.99 L438.33 211.32 L438.9 211.59 L439.47 210.6 L440.03 210.06 L440.6 209.43 L441.26 209.4 L441.92 210.8 L442.58 210.35 L443.24 209.65 L443.9 206.49 L444.45 206.77 L445 208.45 L445.55 205.31 L446.1 207.24 L446.65 205.43 L447.2 207.43 L447.93 203.85 L448.67 206.24 L449.4 204.36 L449.97 204.23 L450.55 204.31 L451.12 207.68 L451.7 207.19 L452.43 206.61 L453.17 207.96 L453.9 209.99 L454.57 207.22 L455.25 207.78 L455.93 205.76 L456.6 205.31 L457.17 208.42 L457.73 209.33 L458.3 208.89 L458.88 209.02 L459.45 209.52 L460.03 211.45 L460.6 211.59 L461.33 211.49 L462.07 211.83 L462.8 213.39 L463.53 214.34 L464.27 215.3 L465 215.49 L465.73 215.8 L466.47 216.71 L467.2 219.13 L467.93 219.41 L468.67 220.79 L469.4 220.64 L469.97 222.13 L470.53 221.84 L471.1 222.91 L471.67 223.3 L472.23 223.21 L472.8 223.02 L473.35 224.21 L473.9 223.83 L474.45 224.41 L475 223.86 L475.55 223.9 L476.1 224.74 L476.65 224.37 L477.2 224.29 L477.75 224.64 L478.3 225 L478.86 224.41 L479.41 224.96 L479.97 224.9 L480.52 224.99 L481.08 224.61 L481.64 225.23 L482.19 225.35 L482.75 225.42 L483.31 224.89 L483.86 225.3 L484.42 224.99 L484.98 225.37 L485.53 224.71 L486.09 225.53 L486.64 225.63 L487.2 225.19 L487.76 225.22 L488.32 225.24 L488.88 225.26 L489.44 224.76 L490 225.91 L490.57 225.47 L491.13 225.7 L491.69 226.23 L492.25 226.49 L492.81 226.6 L493.37 226.6 L493.93 226.6 L494.49 226.6 L495.05 226.6 L495.61 226.6 L496.17 226.6 L496.73 226.6 L497.3 226.6 L497.86 226.6 L498.42 226.6 L498.98 226.6 L499.54 226.6 L500.1 226.6 L500.66 226.6 L501.22 226.6 L501.78 226.6 L502.34 226.6 L502.9 226.6 L503.47 226.6 L504.03 226.6 L504.59 226.6 L505.15 226.6 L505.71 226.6 L506.27 226.6 L506.83 226.6 L507.39 226.6 L507.95 226.6 L508.51 226.6 L509.07 226.6 L509.63 226.6 L510.2 226.6 L510.76 226.6 L511.32 226.6 L511.88 226.6 L512.44 226.6 L513 226.6 L513 226.6 Z" fill="#000"/><path d="M427.7 226.6 v-0.38 M428.7 226.6 v-0.95 M429.52 226.6 v-0.38 M430.88 226.6 v-0.46 M431.7 226.6 v-0.78 M432.96 226.6 v-0.72 M434.32 226.6 v-0.38 M435.82 226.6 v-0.87 M436.65 226.6 v-0.4 M437.85 226.6 v-0.7 M438.87 226.6 v-0.4 M440 226.6 v-0.41 M441.27 226.6 v-0.99 M442.19 226.6 v-0.76 M443.58 226.6 v-0.43 M445.05 226.6 v-1.05 M446.16 226.6 v-0.64 M447.63 226.6 v-0.72 M448.74 226.6 v-1.05 M450.17 226.6 v-0.57 M451.16 226.6 v-0.57 M452.31 226.6 v-1.08 M453.75 226.6 v-1.03 M455.2 226.6 v-0.98 M456.05 226.6 v-0.71 M457.61 226.6 v-1.05 M458.61 226.6 v-0.64 M459.92 226.6 v-0.59 M461.14 226.6 v-0.36 M462.29 226.6 v-0.7 M463.1 226.6 v-0.41 M464.68 226.6 v-0.92 M466.23 226.6 v-0.81 M467.68 226.6 v-1.01 M469.19 226.6 v-0.33 M470.5 226.6 v-0.51 M471.84 226.6 v-0.52 M473.08 226.6 v-1.04 M474.37 226.6 v-0.5 M475.59 226.6 v-0.65 M477.15 226.6 v-0.53 M478.19 226.6 v-0.82 M479.09 226.6 v-0.78 M480.65 226.6 v-0.71 M481.67 226.6 v-0.67 M482.9 226.6 v-0.42 M483.8 226.6 v-0.41 M484.83 226.6 v-0.63 M485.86 226.6 v-0.49 M486.73 226.6 v-0.74 M488.2 226.6 v-0.79 M489.46 226.6 v-0.82 M490.42 226.6 v-0.87 M491.59 226.6 v-0.74" stroke="#000" stroke-width="0.7" fill="none"/><polyline points="427.7,214.2 429,207.6 431.2,199.8 433.9,195.3 437.2,192.4 439.4,195.3 441.7,200.9 443.9,205.3" fill="none" stroke="#111" stroke-width="1.0" stroke-dasharray="2.2 2.3"/><line x1="426.6" y1="182.4" x2="513.9" y2="181.6" stroke="#222" stroke-width="1.0"/><line x1="513.5" y1="181.6" x2="513.5" y2="226.6" stroke="#111" stroke-width="1.0"/><line x1="426.6" y1="182.1" x2="426.6" y2="227.4" stroke="#000" stroke-width="1.9"/><line x1="425.8" y1="226.6" x2="513.9" y2="226.6" stroke="#000" stroke-width="1.2"/><path d="M426.5 226.6 v3.0 M433.5 226.6 v2.0 M436.5 226.6 v2.0 M439.5 226.6 v2.0 M441.5 226.6 v2.0 M443.5 226.6 v2.0 M444.5 226.6 v2.0 M446.5 226.6 v2.0 M447.5 226.6 v2.0 M448.5 226.6 v3.0 M454.5 226.6 v2.0 M458.5 226.6 v2.0 M461.5 226.6 v2.0 M463.5 226.6 v2.0 M465.5 226.6 v2.0 M466.5 226.6 v2.0 M467.5 226.6 v2.0 M469.5 226.6 v2.0 M470.5 226.6 v3.0 M476.5 226.6 v2.0 M480.5 226.6 v2.0 M483.5 226.6 v2.0 M485.5 226.6 v2.0 M486.5 226.6 v2.0 M488.5 226.6 v2.0 M489.5 226.6 v2.0 M490.5 226.6 v2.0 M491.5 226.6 v3.0 M498.5 226.6 v2.0 M502.5 226.6 v2.0 M504.5 226.6 v2.0 M506.5 226.6 v2.0 M508.5 226.6 v2.0 M510.5 226.6 v2.0 M511.5 226.6 v2.0 M512.5 226.6 v2.0 M513.5 226.6 v3.0" stroke="#000" stroke-width="0.9" fill="none"/><path d="M426.6 226.6 h-3.5 M426.6 222.18 h-2.5 M426.6 217.76 h-3.5 M426.6 213.34 h-2.5 M426.6 208.92 h-3.5 M426.6 204.5 h-2.5 M426.6 200.08 h-3.5 M426.6 195.66 h-2.5 M426.6 191.24 h-3.5 M426.6 186.82 h-2.5 M426.6 182.4 h-3.5" stroke="#000" stroke-width="0.75" fill="none"/><text x="422.1" y="236.5" class="tk">10</text><text x="429.1" y="232.6" class="sup">0</text><text x="443.83" y="236.5" class="tk">10</text><text x="450.83" y="232.6" class="sup">1</text><text x="465.55" y="236.5" class="tk">10</text><text x="472.55" y="232.6" class="sup">2</text><text x="487.27" y="236.5" class="tk">10</text><text x="494.27" y="232.6" class="sup">3</text><text x="509" y="236.5" class="tk">10</text><text x="516" y="232.6" class="sup">4</text><text transform="translate(470.05 243) scale(0.889 1)" class="xl" text-anchor="middle">FL1-H</text><text transform="translate(422.1 181.8) rotate(-90) scale(0.807 1)" class="yt" text-anchor="middle">50</text><text transform="translate(422.1 225.1) rotate(-90) scale(0.793 1)" class="yt" text-anchor="middle">0</text><text transform="translate(415 205.6) rotate(-90) scale(0.873 1)" class="ct" text-anchor="middle">Counts</text><text x="480.6" y="194" class="lb" textLength="23.8" lengthAdjust="spacingAndGlyphs">MUC-1</text><text x="490.6" y="213.1" class="lb" textLength="16.2">21%</text></g>
<g><path d="M18.9 319.6 L18.9 318.07 L19.45 317.72 L20 317.46 L20.55 317.25 L21.1 317.38 L21.65 317.05 L22.2 317.1 L22.76 316.3 L23.32 316.55 L23.89 317.02 L24.45 316.13 L25.01 316.38 L25.57 316.16 L26.14 315.77 L26.7 316.52 L27.25 315.33 L27.8 315.67 L28.35 314.52 L28.9 314.08 L29.45 314.95 L30 314.01 L30.55 312.27 L31.1 311.7 L31.65 310.68 L32.2 310.19 L33 305.36 L33.8 302.19 L34.4 302.29 L35 299.41 L35.6 295.23 L36.33 294.21 L37.07 292.63 L37.8 292.1 L38.4 291.16 L39 291.22 L39.6 290.39 L40.15 286.96 L40.7 285.31 L41.8 289.83 L42.55 289.48 L43.3 288.12 L43.88 289.72 L44.45 290.01 L45.02 291.26 L45.6 289.13 L46.35 293.96 L47.1 293.31 L47.7 297.84 L48.3 299.16 L48.9 300.79 L49.5 304.02 L50.1 304.67 L50.7 306.09 L51.45 309.71 L52.2 312.57 L52.93 313.41 L53.67 314.39 L54.4 315.84 L54.97 316.03 L55.53 316.54 L56.1 316.2 L56.67 316.5 L57.23 316.88 L57.8 316.87 L58.35 316.82 L58.9 317.37 L59.45 317.47 L60 317.1 L60.55 317.06 L61.1 316.8 L61.65 316.96 L62.2 316.81 L62.75 317.31 L63.3 317.34 L63.85 316.82 L64.4 317.76 L64.96 317.11 L65.51 317.69 L66.07 317.69 L66.62 317.83 L67.18 317.01 L67.74 317.26 L68.29 317.79 L68.85 316.82 L69.41 316.86 L69.96 317.43 L70.52 317.37 L71.08 317.83 L71.63 317.68 L72.19 317.43 L72.74 317.94 L73.3 317.42 L73.86 317.45 L74.41 317.66 L74.97 317.38 L75.53 317.37 L76.08 317.66 L76.64 317.43 L77.19 318.09 L77.75 317.84 L78.31 317.71 L78.86 317.29 L79.42 317.61 L79.97 317.67 L80.53 317.87 L81.09 317.91 L81.64 318.26 L82.2 318.37 L82.78 317.96 L83.36 317.98 L83.94 318.23 L84.52 318.9 L85.1 318.6 L85.68 319.04 L86.26 319.3 L86.84 319.54 L87.42 319.6 L88 319.6 L88.55 319.6 L89.11 319.6 L89.66 319.6 L90.21 319.6 L90.77 319.6 L91.32 319.6 L91.88 319.6 L92.43 319.6 L92.98 319.6 L93.54 319.6 L94.09 319.6 L94.64 319.6 L95.2 319.6 L95.75 319.6 L96.3 319.6 L96.86 319.6 L97.41 319.6 L97.96 319.6 L98.52 319.6 L99.07 319.6 L99.62 319.6 L100.18 319.6 L100.73 319.6 L101.29 319.6 L101.84 319.6 L102.39 319.6 L102.95 319.6 L103.5 319.6 L103.5 319.6 Z" fill="#000"/><path d="M18.9 319.6 v-0.72 M20.35 319.6 v-0.44 M21.41 319.6 v-1.08 M22.87 319.6 v-0.71 M23.76 319.6 v-1.02 M25.11 319.6 v-0.96 M26.7 319.6 v-1.01 M27.84 319.6 v-0.43 M28.87 319.6 v-0.71 M30.07 319.6 v-0.45 M31.02 319.6 v-0.8 M32.3 319.6 v-0.58 M33.9 319.6 v-0.81 M34.73 319.6 v-0.63 M36.16 319.6 v-0.55 M37.51 319.6 v-0.3 M38.56 319.6 v-0.97 M39.83 319.6 v-0.83 M40.78 319.6 v-0.7 M42.03 319.6 v-0.51 M43.34 319.6 v-0.73 M44.94 319.6 v-0.76 M46.07 319.6 v-0.4 M46.99 319.6 v-0.91 M47.88 319.6 v-0.38 M48.82 319.6 v-0.72 M50.28 319.6 v-0.79 M51.72 319.6 v-0.35 M52.53 319.6 v-0.92 M53.59 319.6 v-0.87 M54.67 319.6 v-0.44 M55.69 319.6 v-0.38 M57.21 319.6 v-0.77 M58.29 319.6 v-0.66 M59.4 319.6 v-0.34 M60.91 319.6 v-0.77 M62.48 319.6 v-0.65 M63.77 319.6 v-0.5 M64.61 319.6 v-1.04 M66.09 319.6 v-0.55 M67.61 319.6 v-0.95 M68.65 319.6 v-0.78 M70.22 319.6 v-0.7 M71.78 319.6 v-0.49 M72.89 319.6 v-0.87 M73.87 319.6 v-0.55 M75.37 319.6 v-0.69 M76.8 319.6 v-0.49 M77.74 319.6 v-0.59 M78.69 319.6 v-1.08 M79.72 319.6 v-0.75 M80.62 319.6 v-0.73 M81.73 319.6 v-0.62 M82.58 319.6 v-0.4 M84.04 319.6 v-0.58 M85.03 319.6 v-0.45 M86.06 319.6 v-0.49 M86.89 319.6 v-0.83" stroke="#000" stroke-width="0.7" fill="none"/><polyline points="18.9,315.2 20.4,307.4 22.2,298.6 24,290.8 25.6,286.3 27.8,285.2 30,284.1 30.7,276.3 31.6,285.2 33.3,290.8 35.1,294.1" fill="none" stroke="#111" stroke-width="1.0" stroke-dasharray="2.2 2.3"/><line x1="18.2" y1="275.9" x2="104.2" y2="275.9" stroke="#222" stroke-width="1.0"/><line x1="103.8" y1="275.9" x2="103.8" y2="319.6" stroke="#111" stroke-width="1.0"/><line x1="18.2" y1="275.6" x2="18.2" y2="320.4" stroke="#000" stroke-width="1.9"/><line x1="17.4" y1="319.6" x2="104.2" y2="319.6" stroke="#000" stroke-width="1.2"/><path d="M18.5 319.6 v3.0 M24.5 319.6 v2.0 M28.5 319.6 v2.0 M31.5 319.6 v2.0 M33.5 319.6 v2.0 M34.5 319.6 v2.0 M36.5 319.6 v2.0 M37.5 319.6 v2.0 M38.5 319.6 v2.0 M39.5 319.6 v3.0 M46.5 319.6 v2.0 M49.5 319.6 v2.0 M52.5 319.6 v2.0 M54.5 319.6 v2.0 M56.5 319.6 v2.0 M57.5 319.6 v2.0 M58.5 319.6 v2.0 M60.5 319.6 v2.0 M61.5 319.6 v3.0 M67.5 319.6 v2.0 M71.5 319.6 v2.0 M73.5 319.6 v2.0 M75.5 319.6 v2.0 M77.5 319.6 v2.0 M79.5 319.6 v2.0 M80.5 319.6 v2.0 M81.5 319.6 v2.0 M82.5 319.6 v3.0 M88.5 319.6 v2.0 M92.5 319.6 v2.0 M95.5 319.6 v2.0 M97.5 319.6 v2.0 M99.5 319.6 v2.0 M100.5 319.6 v2.0 M101.5 319.6 v2.0 M102.5 319.6 v2.0 M103.5 319.6 v3.0" stroke="#000" stroke-width="0.9" fill="none"/><path d="M18.2 319.6 h-3.5 M18.2 316.69 h-2.5 M18.2 313.77 h-2.5 M18.2 310.86 h-2.5 M18.2 307.95 h-2.5 M18.2 305.03 h-3.5 M18.2 302.12 h-2.5 M18.2 299.21 h-2.5 M18.2 296.29 h-2.5 M18.2 293.38 h-2.5 M18.2 290.47 h-3.5 M18.2 287.55 h-2.5 M18.2 284.64 h-2.5 M18.2 281.73 h-2.5 M18.2 278.81 h-2.5 M18.2 275.9 h-3.5" stroke="#000" stroke-width="0.75" fill="none"/><text x="13.7" y="330.2" class="tk">10</text><text x="20.7" y="326.3" class="sup">0</text><text x="35.1" y="330.2" class="tk">10</text><text x="42.1" y="326.3" class="sup">1</text><text x="56.5" y="330.2" class="tk">10</text><text x="63.5" y="326.3" class="sup">2</text><text x="77.9" y="330.2" class="tk">10</text><text x="84.9" y="326.3" class="sup">3</text><text x="99.3" y="330.2" class="tk">10</text><text x="106.3" y="326.3" class="sup">4</text><text transform="translate(61 336) scale(0.889 1)" class="xl" text-anchor="middle">FL1-H</text><text transform="translate(12.9 275.3) rotate(-90) scale(0.807 1)" class="yt" text-anchor="middle">60</text><text transform="translate(12.9 318.1) rotate(-90) scale(0.793 1)" class="yt" text-anchor="middle">0</text><text transform="translate(5.6 297.4) rotate(-90) scale(0.873 1)" class="ct" text-anchor="middle">Counts</text><text x="78.6" y="289.3" class="lb" textLength="18.7" lengthAdjust="spacingAndGlyphs">CD58</text><text x="71" y="308.1" class="lb" textLength="25">69,3%</text></g>
<g><path d="M157.7 319.9 L157.7 319.3 L158.25 318.4 L158.8 318.36 L159.35 317.13 L159.9 316.73 L160.48 316.82 L161.06 315.3 L161.64 315.12 L162.22 315.1 L162.8 314.48 L163.53 312.07 L164.27 311.05 L165 310.46 L165.75 308.47 L166.5 308.61 L167.4 304.72 L168 303.76 L168.6 299.27 L169.25 295.2 L169.9 292.84 L170.52 290.5 L171.13 291.2 L171.75 288.44 L172.37 288.94 L172.98 286.21 L173.6 283.8 L174.17 282.4 L174.73 282.65 L175.3 280.32 L175.9 282.37 L176.5 279.62 L177.1 281.14 L177.7 281.44 L178 283.47 L178.6 291.42 L179.25 293.23 L179.9 297.29 L180.5 300.11 L181.1 302.43 L181.67 304.94 L182.23 306.47 L182.8 309.01 L183.53 312.01 L184.27 312.66 L185 314.84 L185.55 314.44 L186.1 315.49 L186.65 315.62 L187.2 316.2 L187.75 316.35 L188.3 316.49 L188.86 316.85 L189.43 316.83 L189.99 316.8 L190.55 317.55 L191.11 317.13 L191.68 317.34 L192.24 317.98 L192.8 317.9 L193.4 318 L194 317.96 L194.6 317.14 L195.2 317.28 L195.8 316.99 L196.4 317.69 L197 317.66 L197.6 317.29 L198.2 317.34 L198.8 317.6 L199.4 317.62 L200 316.98 L200.6 317.54 L201.2 316.83 L201.8 317.02 L202.4 316.35 L203 316.13 L203.62 317.01 L204.24 316.69 L204.86 316.57 L205.48 315.61 L206.1 315.5 L206.66 315.74 L207.21 315.86 L207.77 316.06 L208.33 316.24 L208.89 315.88 L209.44 316.29 L210 316.77 L210.57 316.31 L211.14 317.21 L211.71 316.98 L212.29 317.25 L212.86 316.81 L213.43 317.13 L214 317.51 L214.6 317.21 L215.2 316.9 L215.8 317.9 L216.4 317.91 L217 317.46 L217.6 317.27 L218.2 318.22 L218.8 318.04 L219.4 317.53 L219.97 317.85 L220.55 317.83 L221.12 318.63 L221.7 318.16 L222.28 319.08 L222.85 319.25 L223.43 319.32 L224 319.57 L224.55 319.75 L225.11 319.9 L225.66 319.9 L226.21 319.9 L226.77 319.9 L227.32 319.9 L227.88 319.9 L228.43 319.9 L228.98 319.9 L229.54 319.9 L230.09 319.9 L230.64 319.9 L231.2 319.9 L231.75 319.9 L232.3 319.9 L232.86 319.9 L233.41 319.9 L233.96 319.9 L234.52 319.9 L235.07 319.9 L235.62 319.9 L236.18 319.9 L236.73 319.9 L237.29 319.9 L237.84 319.9 L238.39 319.9 L238.95 319.9 L239.5 319.9 L239.5 319.9 Z" fill="#000"/><path d="M157.7 319.9 v-0.37 M159.06 319.9 v-0.61 M160.45 319.9 v-0.96 M161.48 319.9 v-0.37 M163.04 319.9 v-0.64 M164.58 319.9 v-0.85 M165.97 319.9 v-0.96 M167.27 319.9 v-0.66 M168.12 319.9 v-0.86 M169.26 319.9 v-0.71 M170.8 319.9 v-0.4 M172.21 319.9 v-0.33 M173.57 319.9 v-0.94 M174.58 319.9 v-0.74 M176.16 319.9 v-0.81 M177.39 319.9 v-0.5 M178.24 319.9 v-0.59 M179.37 319.9 v-0.46 M180.42 319.9 v-0.41 M181.78 319.9 v-0.84 M182.77 319.9 v-0.49 M183.99 319.9 v-0.66 M185.54 319.9 v-0.58 M186.57 319.9 v-1.01 M187.49 319.9 v-0.75 M188.56 319.9 v-0.95 M189.79 319.9 v-0.91 M190.73 319.9 v-0.83 M192.01 319.9 v-0.67 M193.42 319.9 v-0.96 M194.31 319.9 v-0.53 M195.4 319.9 v-0.47 M196.25 319.9 v-0.52 M197.21 319.9 v-0.86 M198.37 319.9 v-0.39 M199.43 319.9 v-0.67 M200.52 319.9 v-0.43 M201.37 319.9 v-0.31 M202.97 319.9 v-0.9 M203.83 319.9 v-0.87 M205.42 319.9 v-0.75 M206.31 319.9 v-0.69 M207.45 319.9 v-0.45 M208.69 319.9 v-0.31 M210.22 319.9 v-0.82 M211.52 319.9 v-1.05 M212.85 319.9 v-0.5 M213.84 319.9 v-0.41 M214.67 319.9 v-0.92 M216.14 319.9 v-0.54 M217.09 319.9 v-0.81 M218.56 319.9 v-1.04 M219.5 319.9 v-0.93 M220.96 319.9 v-0.89 M222.02 319.9 v-0.45 M223.48 319.9 v-0.56 M224.58 319.9 v-0.74" stroke="#000" stroke-width="0.7" fill="none"/><polyline points="158.2,314 159.3,308 160.5,303 161.75,298 163,293 163.6,288 166.1,285.5 168,283 169.25,277.4 169.6,283 170.6,287" fill="none" stroke="#111" stroke-width="1.0" stroke-dasharray="2.2 2.3"/><line x1="176.8" y1="275.9" x2="176.8" y2="281.9" stroke="#000" stroke-width="0.9"/><line x1="156.6" y1="275.9" x2="240" y2="275.9" stroke="#222" stroke-width="1.0"/><line x1="239.1" y1="275.9" x2="239.1" y2="319.9" stroke="#111" stroke-width="1.0"/><line x1="156.6" y1="275.6" x2="156.6" y2="320.7" stroke="#000" stroke-width="1.9"/><line x1="155.8" y1="319.9" x2="240" y2="319.9" stroke="#000" stroke-width="1.2"/><path d="M156.5 319.9 v3.0 M162.5 319.9 v2.0 M166.5 319.9 v2.0 M169.5 319.9 v2.0 M171.5 319.9 v2.0 M172.5 319.9 v2.0 M174.5 319.9 v2.0 M175.5 319.9 v2.0 M176.5 319.9 v2.0 M177.5 319.9 v3.0 M183.5 319.9 v2.0 M187.5 319.9 v2.0 M189.5 319.9 v2.0 M191.5 319.9 v2.0 M193.5 319.9 v2.0 M194.5 319.9 v2.0 M196.5 319.9 v2.0 M197.5 319.9 v2.0 M198.5 319.9 v3.0 M204.5 319.9 v2.0 M208.5 319.9 v2.0 M210.5 319.9 v2.0 M212.5 319.9 v2.0 M214.5 319.9 v2.0 M215.5 319.9 v2.0 M216.5 319.9 v2.0 M217.5 319.9 v2.0 M218.5 319.9 v3.0 M225.5 319.9 v2.0 M228.5 319.9 v2.0 M231.5 319.9 v2.0 M233.5 319.9 v2.0 M234.5 319.9 v2.0 M236.5 319.9 v2.0 M237.5 319.9 v2.0 M238.5 319.9 v2.0 M239.5 319.9 v3.0" stroke="#000" stroke-width="0.9" fill="none"/><path d="M156.6 319.9 h-3.5 M156.6 316.97 h-2.5 M156.6 314.03 h-2.5 M156.6 311.1 h-2.5 M156.6 308.17 h-2.5 M156.6 305.23 h-3.5 M156.6 302.3 h-2.5 M156.6 299.37 h-2.5 M156.6 296.43 h-2.5 M156.6 293.5 h-2.5 M156.6 290.57 h-3.5 M156.6 287.63 h-2.5 M156.6 284.7 h-2.5 M156.6 281.77 h-2.5 M156.6 278.83 h-2.5 M156.6 275.9 h-3.5" stroke="#000" stroke-width="0.75" fill="none"/><text x="152.1" y="330.6" class="tk">10</text><text x="159.1" y="326.7" class="sup">0</text><text x="172.85" y="330.6" class="tk">10</text><text x="179.85" y="326.7" class="sup">1</text><text x="193.6" y="330.6" class="tk">10</text><text x="200.6" y="326.7" class="sup">2</text><text x="214.35" y="330.6" class="tk">10</text><text x="221.35" y="326.7" class="sup">3</text><text x="235.1" y="330.6" class="tk">10</text><text x="242.1" y="326.7" class="sup">4</text><text transform="translate(198.1 336.5) scale(0.889 1)" class="xl" text-anchor="middle">FL1-H</text><text transform="translate(152.1 275.3) rotate(-90) scale(0.807 1)" class="yt" text-anchor="middle">60</text><text transform="translate(152.1 318.4) rotate(-90) scale(0.793 1)" class="yt" text-anchor="middle">0</text><text transform="translate(144.3 298) rotate(-90) scale(0.873 1)" class="ct" text-anchor="middle">Counts</text><text x="213" y="288.9" class="lb" textLength="18.8" lengthAdjust="spacingAndGlyphs">CD18</text><text x="216.9" y="305.6" class="lb" textLength="16.9">34%</text></g>
<g><path d="M292.2 319.5 L292.2 319 L292.93 318.65 L293.67 317.4 L294.4 316.48 L294.97 316.33 L295.55 315.67 L296.12 315.2 L296.7 314.31 L297.3 313.35 L297.9 312.16 L298.5 309.99 L299.3 307.75 L300.1 304.6 L300.75 300.49 L301.4 297.03 L302 291.57 L302.6 289.89 L303.25 286.23 L303.9 285.31 L304.5 284.3 L305.1 278.5 L305.7 277.64 L306.35 280.27 L307 280.7 L307.75 281.13 L308.5 277.31 L309.5 284.16 L310.12 287.33 L310.75 290.23 L311.38 292.75 L312 296.01 L313 304.7 L313.65 306.66 L314.3 308.83 L314.95 310.69 L315.6 312.9 L316.33 314.35 L317.07 315.64 L317.8 316.79 L318.35 316.07 L318.9 316.39 L319.45 316.73 L320 317.04 L320.55 316.97 L321.1 316.97 L321.66 316.86 L322.22 317.13 L322.78 317.28 L323.33 317.84 L323.89 317.78 L324.45 317.74 L325.01 317.87 L325.57 317.86 L326.12 317.5 L326.68 317.72 L327.24 316.92 L327.8 317.59 L328.4 317.48 L329 317.11 L329.6 317.37 L330.2 317.75 L330.8 317.2 L331.4 317.34 L332 316.92 L332.6 316.94 L333.2 317.5 L333.8 316.51 L334.4 316.65 L335 317.07 L335.6 316.67 L336.2 316.11 L336.8 316.66 L337.4 316.18 L338 316.3 L338.58 316 L339.17 316.04 L339.75 315.98 L340.33 315.67 L340.92 315.2 L341.5 315.18 L342.08 316.22 L342.67 315.89 L343.25 315.46 L343.83 316.52 L344.42 315.88 L345 315.81 L345.57 316.44 L346.14 316.2 L346.71 316.59 L347.29 316.76 L347.86 316.49 L348.43 316.98 L349 316.56 L349.61 317.19 L350.23 317.44 L350.84 317.07 L351.46 317.87 L352.07 318.04 L352.69 318.8 L353.3 319.2 L353.98 319.49 L354.65 319.5 L355.32 319.5 L356 319.5 L356.55 319.5 L357.11 319.5 L357.66 319.5 L358.21 319.5 L358.76 319.5 L359.32 319.5 L359.87 319.5 L360.42 319.5 L360.97 319.5 L361.53 319.5 L362.08 319.5 L362.63 319.5 L363.18 319.5 L363.74 319.5 L364.29 319.5 L364.84 319.5 L365.39 319.5 L365.95 319.5 L366.5 319.5 L367.05 319.5 L367.61 319.5 L368.16 319.5 L368.71 319.5 L369.26 319.5 L369.82 319.5 L370.37 319.5 L370.92 319.5 L371.47 319.5 L372.03 319.5 L372.58 319.5 L373.13 319.5 L373.68 319.5 L374.24 319.5 L374.79 319.5 L375.34 319.5 L375.89 319.5 L376.45 319.5 L377 319.5 L377 319.5 Z" fill="#000"/><path d="M292.2 319.5 v-0.99 M293.44 319.5 v-0.87 M294.85 319.5 v-0.39 M296.44 319.5 v-0.88 M297.32 319.5 v-0.96 M298.43 319.5 v-0.44 M300 319.5 v-0.75 M301.42 319.5 v-0.41 M302.84 319.5 v-0.35 M303.83 319.5 v-0.6 M304.64 319.5 v-0.78 M305.61 319.5 v-0.54 M306.98 319.5 v-0.64 M308.49 319.5 v-0.8 M309.99 319.5 v-0.75 M311.52 319.5 v-1 M312.46 319.5 v-0.9 M313.53 319.5 v-0.91 M314.88 319.5 v-0.96 M315.77 319.5 v-0.6 M317.16 319.5 v-1.06 M318.54 319.5 v-0.33 M319.82 319.5 v-0.38 M321.06 319.5 v-0.94 M321.95 319.5 v-1.04 M323.29 319.5 v-0.5 M324.25 319.5 v-0.66 M325.72 319.5 v-0.77 M326.61 319.5 v-0.32 M327.5 319.5 v-0.94 M328.45 319.5 v-0.74 M329.48 319.5 v-0.85 M330.58 319.5 v-0.42 M332.08 319.5 v-0.73 M333.43 319.5 v-0.95 M334.99 319.5 v-0.31 M336.07 319.5 v-0.42 M337.27 319.5 v-1 M338.71 319.5 v-0.33 M339.65 319.5 v-0.95 M341 319.5 v-0.61 M342.18 319.5 v-0.43 M343.66 319.5 v-0.61 M345.15 319.5 v-0.79 M346.01 319.5 v-0.56 M346.99 319.5 v-1.02 M348.26 319.5 v-0.33 M349.19 319.5 v-0.59 M350.37 319.5 v-0.76 M351.48 319.5 v-0.58 M352.28 319.5 v-0.76 M353.35 319.5 v-0.32" stroke="#000" stroke-width="0.7" fill="none"/><polyline points="290.6,316.3 292,310 293.5,305 294.5,303 295.1,298 296.4,293 297,288 298.9,285.5 301.4,283.6" fill="none" stroke="#111" stroke-width="1.0" stroke-dasharray="2.2 2.3"/><line x1="302.9" y1="276.3" x2="302.9" y2="291.9" stroke="#000" stroke-width="0.9"/><line x1="289.6" y1="276.3" x2="377.7" y2="275.7" stroke="#222" stroke-width="1.0"/><line x1="377.3" y1="275.7" x2="377.3" y2="319.5" stroke="#111" stroke-width="1.0"/><line x1="289.6" y1="276" x2="289.6" y2="320.3" stroke="#000" stroke-width="1.9"/><line x1="288.8" y1="319.5" x2="377.7" y2="319.5" stroke="#000" stroke-width="1.2"/><path d="M289.5 319.5 v3.0 M296.5 319.5 v2.0 M300.5 319.5 v2.0 M302.5 319.5 v2.0 M304.5 319.5 v2.0 M306.5 319.5 v2.0 M308.5 319.5 v2.0 M309.5 319.5 v2.0 M310.5 319.5 v2.0 M311.5 319.5 v3.0 M318.5 319.5 v2.0 M321.5 319.5 v2.0 M324.5 319.5 v2.0 M326.5 319.5 v2.0 M328.5 319.5 v2.0 M330.5 319.5 v2.0 M331.5 319.5 v2.0 M332.5 319.5 v2.0 M333.5 319.5 v3.0 M340.5 319.5 v2.0 M343.5 319.5 v2.0 M346.5 319.5 v2.0 M348.5 319.5 v2.0 M350.5 319.5 v2.0 M351.5 319.5 v2.0 M353.5 319.5 v2.0 M354.5 319.5 v2.0 M355.5 319.5 v3.0 M361.5 319.5 v2.0 M365.5 319.5 v2.0 M368.5 319.5 v2.0 M370.5 319.5 v2.0 M372.5 319.5 v2.0 M373.5 319.5 v2.0 M375.5 319.5 v2.0 M376.5 319.5 v2.0 M377.5 319.5 v3.0" stroke="#000" stroke-width="0.9" fill="none"/><path d="M289.6 319.5 h-3.5 M289.6 316.62 h-2.5 M289.6 313.74 h-2.5 M289.6 310.86 h-2.5 M289.6 307.98 h-2.5 M289.6 305.1 h-3.5 M289.6 302.22 h-2.5 M289.6 299.34 h-2.5 M289.6 296.46 h-2.5 M289.6 293.58 h-2.5 M289.6 290.7 h-3.5 M289.6 287.82 h-2.5 M289.6 284.94 h-2.5 M289.6 282.06 h-2.5 M289.6 279.18 h-2.5 M289.6 276.3 h-3.5" stroke="#000" stroke-width="0.75" fill="none"/><text x="285.1" y="329.8" class="tk">10</text><text x="292.1" y="325.9" class="sup">0</text><text x="307.03" y="329.8" class="tk">10</text><text x="314.03" y="325.9" class="sup">1</text><text x="328.95" y="329.8" class="tk">10</text><text x="335.95" y="325.9" class="sup">2</text><text x="350.88" y="329.8" class="tk">10</text><text x="357.88" y="325.9" class="sup">3</text><text x="372.8" y="329.8" class="tk">10</text><text x="379.8" y="325.9" class="sup">4</text><text transform="translate(333.45 335.7) scale(0.889 1)" class="xl" text-anchor="middle">FL1-H</text><text transform="translate(285.1 275.7) rotate(-90) scale(0.807 1)" class="yt" text-anchor="middle">60</text><text transform="translate(285.1 318) rotate(-90) scale(0.793 1)" class="yt" text-anchor="middle">0</text><text transform="translate(278.2 298) rotate(-90) scale(0.873 1)" class="ct" text-anchor="middle">Counts</text><text x="348.4" y="288.9" class="lb" textLength="22" lengthAdjust="spacingAndGlyphs">CD11a</text><text x="354.4" y="310.1" class="lb" textLength="15.6">16%</text></g>
<g><path d="M426.8 319.4 L426.8 319.04 L426.8 314.59 L427.43 314.53 L428.07 315.07 L428.7 314.33 L429.33 314.14 L429.97 314.28 L430.6 313.75 L431.23 314.27 L431.86 314.28 L432.49 314.98 L433.11 315.1 L433.74 313.79 L434.37 314.62 L435 314.99 L435.55 314.88 L436.1 314.48 L436.65 314 L437.2 313.74 L437.75 313.05 L438.3 312.64 L438.87 313.59 L439.43 313.83 L440 314.05 L440.57 313.75 L441.13 313.28 L441.7 314.11 L442.25 313.7 L442.8 312.95 L443.35 312.78 L443.9 311.91 L444.45 311.87 L445 311.23 L445.55 310.1 L446.1 310.15 L446.65 309.64 L447.2 310.55 L447.75 309.03 L448.3 308.31 L448.87 307.45 L449.43 306.84 L450 306.53 L450.57 305.42 L451.13 304.5 L451.7 306.18 L452.35 303.97 L453 302.84 L453.65 302.11 L454.3 300.16 L454.88 298.8 L455.46 297.53 L456.04 297.43 L456.62 296.55 L457.2 297.07 L457.93 295.01 L458.67 294.85 L459.4 291.36 L459.97 292.66 L460.55 290.83 L461.12 288.45 L461.7 288.11 L462.45 290.27 L463.2 292.46 L463.8 291.78 L464.4 294.67 L465 294.96 L465.73 298.32 L466.47 297.46 L467.2 300.75 L467.93 303.82 L468.67 303.85 L469.4 305.69 L469.97 306.59 L470.55 308.38 L471.12 310.05 L471.7 312.26 L472.35 312.44 L473 313.75 L473.65 314.48 L474.3 316.03 L474.87 316.6 L475.44 316.59 L476.01 316.32 L476.59 317.19 L477.16 317.8 L477.73 318.02 L478.3 318.05 L478.86 319.07 L479.43 319.11 L479.99 319.39 L480.55 319.4 L481.11 319.4 L481.68 319.4 L482.24 319.4 L482.8 319.4 L483.36 319.4 L483.92 319.4 L484.48 319.4 L485.04 319.4 L485.6 319.4 L486.16 319.4 L486.71 319.4 L487.27 319.4 L487.83 319.4 L488.39 319.4 L488.95 319.4 L489.51 319.4 L490.07 319.4 L490.63 319.4 L491.19 319.4 L491.75 319.4 L492.31 319.4 L492.87 319.4 L493.43 319.4 L493.99 319.4 L494.54 319.4 L495.1 319.4 L495.66 319.4 L496.22 319.4 L496.78 319.4 L497.34 319.4 L497.9 319.4 L498.46 319.4 L499.02 319.4 L499.58 319.4 L500.14 319.4 L500.7 319.4 L501.26 319.4 L501.81 319.4 L502.37 319.4 L502.93 319.4 L503.49 319.4 L504.05 319.4 L504.61 319.4 L505.17 319.4 L505.73 319.4 L506.29 319.4 L506.85 319.4 L507.41 319.4 L507.97 319.4 L508.53 319.4 L509.09 319.4 L509.64 319.4 L510.2 319.4 L510.76 319.4 L511.32 319.4 L511.88 319.4 L512.44 319.4 L513 319.4 L513 319.4 Z" fill="#000"/><path d="M426.8 319.4 v-1 M427.87 319.4 v-0.41 M428.82 319.4 v-0.73 M430.32 319.4 v-0.81 M431.86 319.4 v-0.47 M432.92 319.4 v-0.9 M434.24 319.4 v-0.62 M435.59 319.4 v-0.57 M436.43 319.4 v-0.63 M437.27 319.4 v-0.8 M438.34 319.4 v-0.7 M439.61 319.4 v-0.51 M440.78 319.4 v-0.31 M442.33 319.4 v-0.75 M443.92 319.4 v-0.34 M445.21 319.4 v-0.88 M446.27 319.4 v-0.37 M447.19 319.4 v-0.41 M448.61 319.4 v-0.37 M450.06 319.4 v-0.64 M451.29 319.4 v-0.77 M452.53 319.4 v-0.83 M453.82 319.4 v-0.56 M455.21 319.4 v-0.51 M456.58 319.4 v-0.91 M458 319.4 v-0.55 M459.42 319.4 v-1.08 M460.58 319.4 v-0.52 M461.8 319.4 v-1.05 M462.7 319.4 v-0.31 M463.88 319.4 v-0.82 M465.3 319.4 v-0.59 M466.89 319.4 v-0.48 M468.3 319.4 v-0.37 M469.12 319.4 v-0.41 M469.97 319.4 v-0.7 M471.21 319.4 v-0.45 M472.77 319.4 v-0.59 M473.69 319.4 v-0.44 M475.08 319.4 v-1.04 M476.01 319.4 v-0.32 M477.43 319.4 v-0.49 M479.01 319.4 v-0.7" stroke="#000" stroke-width="0.7" fill="none"/><polyline points="427.5,315 429,308 430.5,301.75 433,289.25 435.5,281.75 438.6,276.75 440.5,281.75 443,289.25 445.5,295.5 448.6,303 451.7,308.6" fill="none" stroke="#111" stroke-width="1.0" stroke-dasharray="2.2 2.3"/><polyline points="472.8,310.8 476.1,315.2 480.6,317.7 486.1,318.6" fill="none" stroke="#111" stroke-width="1.0" stroke-dasharray="2.2 2.3"/><line x1="426.1" y1="275.2" x2="513.7" y2="274.5" stroke="#222" stroke-width="1.0"/><line x1="513.3" y1="274.5" x2="513.3" y2="319.4" stroke="#111" stroke-width="1.0"/><line x1="426.1" y1="274.9" x2="426.1" y2="320.2" stroke="#000" stroke-width="1.9"/><line x1="425.3" y1="319.4" x2="513.7" y2="319.4" stroke="#000" stroke-width="1.2"/><path d="M426.5 319.4 v3.0 M432.5 319.4 v2.0 M436.5 319.4 v2.0 M439.5 319.4 v2.0 M441.5 319.4 v2.0 M443.5 319.4 v2.0 M444.5 319.4 v2.0 M445.5 319.4 v2.0 M446.5 319.4 v2.0 M447.5 319.4 v3.0 M454.5 319.4 v2.0 M458.5 319.4 v2.0 M461.5 319.4 v2.0 M463.5 319.4 v2.0 M464.5 319.4 v2.0 M466.5 319.4 v2.0 M467.5 319.4 v2.0 M468.5 319.4 v2.0 M469.5 319.4 v3.0 M476.5 319.4 v2.0 M480.5 319.4 v2.0 M482.5 319.4 v2.0 M484.5 319.4 v2.0 M486.5 319.4 v2.0 M488.5 319.4 v2.0 M489.5 319.4 v2.0 M490.5 319.4 v2.0 M491.5 319.4 v3.0 M498.5 319.4 v2.0 M501.5 319.4 v2.0 M504.5 319.4 v2.0 M506.5 319.4 v2.0 M508.5 319.4 v2.0 M509.5 319.4 v2.0 M511.5 319.4 v2.0 M512.5 319.4 v2.0 M513.5 319.4 v3.0" stroke="#000" stroke-width="0.9" fill="none"/><path d="M426.1 319.4 h-3.5 M426.1 316.45 h-2.5 M426.1 313.51 h-2.5 M426.1 310.56 h-2.5 M426.1 307.61 h-2.5 M426.1 304.67 h-3.5 M426.1 301.72 h-2.5 M426.1 298.77 h-2.5 M426.1 295.83 h-2.5 M426.1 292.88 h-2.5 M426.1 289.93 h-3.5 M426.1 286.99 h-2.5 M426.1 284.04 h-2.5 M426.1 281.09 h-2.5 M426.1 278.15 h-2.5 M426.1 275.2 h-3.5" stroke="#000" stroke-width="0.75" fill="none"/><text x="421.6" y="330" class="tk">10</text><text x="428.6" y="326.1" class="sup">0</text><text x="443.4" y="330" class="tk">10</text><text x="450.4" y="326.1" class="sup">1</text><text x="465.2" y="330" class="tk">10</text><text x="472.2" y="326.1" class="sup">2</text><text x="487" y="330" class="tk">10</text><text x="494" y="326.1" class="sup">3</text><text x="508.8" y="330" class="tk">10</text><text x="515.8" y="326.1" class="sup">4</text><text transform="translate(469.7 336) scale(0.889 1)" class="xl" text-anchor="middle">FL1-H</text><text transform="translate(421.6 274.6) rotate(-90) scale(0.807 1)" class="yt" text-anchor="middle">60</text><text transform="translate(421.6 317.9) rotate(-90) scale(0.793 1)" class="yt" text-anchor="middle">0</text><text transform="translate(414.3 298) rotate(-90) scale(0.873 1)" class="ct" text-anchor="middle">Counts</text><text x="487.1" y="287.7" class="lb" textLength="18.2" lengthAdjust="spacingAndGlyphs">CD54</text></g>
</g>
</svg>
</body></html>
